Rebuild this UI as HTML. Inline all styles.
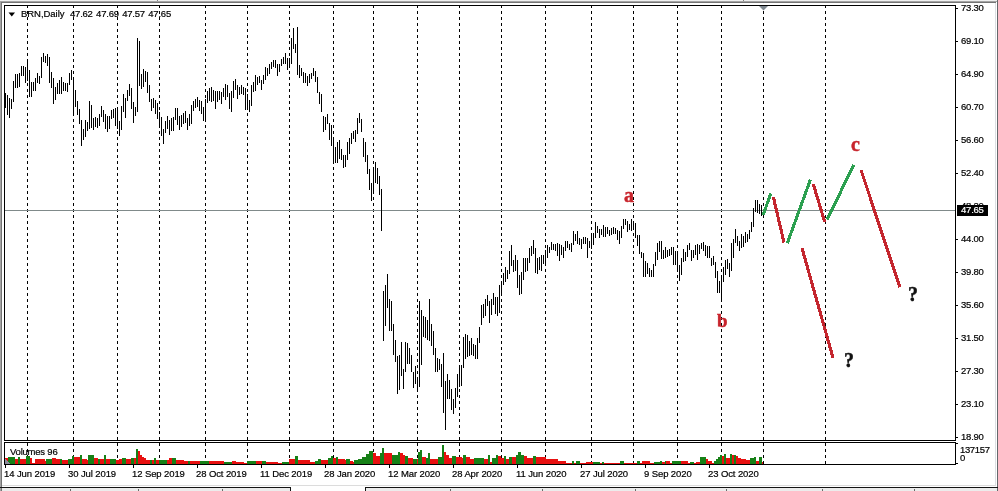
<!DOCTYPE html>
<html><head><meta charset="utf-8"><title>BRN Daily</title>
<style>
html,body{margin:0;padding:0;background:#fff;}
body{width:998px;height:491px;overflow:hidden;position:relative;font-family:"Liberation Sans",sans-serif;}
svg{position:absolute;left:0;top:0;display:block;}
.t{position:absolute;white-space:nowrap;font-family:"Liberation Sans",sans-serif;font-size:9.5px;letter-spacing:-0.22px;line-height:10px;color:#000;will-change:transform;-webkit-text-stroke:0.2px currentColor;}
.s{will-change:transform;-webkit-text-stroke:0.45px currentColor;position:absolute;white-space:nowrap;font-family:"Liberation Serif",serif;font-weight:bold;font-size:20px;line-height:20px;}
</style></head><body>
<svg width="998" height="491" viewBox="0 0 998 491">
<rect x="0" y="0" width="998" height="491" fill="#ffffff"/>
<g shape-rendering="crispEdges">
<rect x="0" y="0" width="998" height="1" fill="#f0f0f0"/>
<rect x="0" y="1" width="997" height="1" fill="#a4a4a4"/>
<rect x="1" y="2" width="995" height="1" fill="#747474"/>
<rect x="0" y="1" width="1" height="490" fill="#a4a4a4"/>
<rect x="1" y="2" width="1" height="489" fill="#747474"/>
<rect x="995" y="3" width="1" height="483" fill="#dcdfe2"/>
<rect x="997" y="0" width="1" height="491" fill="#64686c"/>
<rect x="2" y="485" width="994" height="1" fill="#dcdcdc"/>
<rect x="2" y="488" width="995" height="3" fill="#ececec"/>
<rect x="291" y="487" width="74" height="4" fill="#ffffff"/>
<rect x="0" y="487" width="291" height="1" fill="#141414"/>
<rect x="365" y="487" width="633" height="1" fill="#141414"/>
<rect x="290" y="487" width="1" height="4" fill="#141414"/>
<rect x="365" y="487" width="1" height="4" fill="#141414"/>
<rect x="70" y="489" width="1" height="2" fill="#6a6a6a"/>
<rect x="138" y="489" width="1" height="2" fill="#6a6a6a"/>
<rect x="222" y="489" width="1" height="2" fill="#6a6a6a"/>
<rect x="450" y="489" width="1" height="2" fill="#6a6a6a"/>
<rect x="542" y="489" width="1" height="2" fill="#6a6a6a"/>
<rect x="635" y="489" width="1" height="2" fill="#6a6a6a"/>
<rect x="726" y="489" width="1" height="2" fill="#6a6a6a"/>
<rect x="822" y="489" width="1" height="2" fill="#6a6a6a"/>
<rect x="914" y="489" width="1" height="2" fill="#6a6a6a"/>
<rect x="157" y="0" width="1" height="1" fill="#808080"/><rect x="743" y="0" width="1" height="1" fill="#808080"/>
</g>
<g shape-rendering="crispEdges" fill="#000">
<rect x="27" y="6" width="1" height="2"/><rect x="27" y="11" width="1" height="3"/><rect x="27" y="17" width="1" height="3"/><rect x="27" y="23" width="1" height="3"/><rect x="27" y="29" width="1" height="3"/><rect x="27" y="35" width="1" height="3"/><rect x="27" y="41" width="1" height="3"/><rect x="27" y="47" width="1" height="3"/><rect x="27" y="53" width="1" height="3"/><rect x="27" y="59" width="1" height="3"/><rect x="27" y="65" width="1" height="3"/><rect x="27" y="71" width="1" height="3"/><rect x="27" y="77" width="1" height="3"/><rect x="27" y="83" width="1" height="3"/><rect x="27" y="89" width="1" height="3"/><rect x="27" y="95" width="1" height="3"/><rect x="27" y="101" width="1" height="3"/><rect x="27" y="107" width="1" height="3"/><rect x="27" y="113" width="1" height="3"/><rect x="27" y="119" width="1" height="3"/><rect x="27" y="125" width="1" height="3"/><rect x="27" y="131" width="1" height="3"/><rect x="27" y="137" width="1" height="3"/><rect x="27" y="143" width="1" height="3"/><rect x="27" y="149" width="1" height="3"/><rect x="27" y="155" width="1" height="3"/><rect x="27" y="161" width="1" height="3"/><rect x="27" y="167" width="1" height="3"/><rect x="27" y="173" width="1" height="3"/><rect x="27" y="179" width="1" height="3"/><rect x="27" y="185" width="1" height="3"/><rect x="27" y="191" width="1" height="3"/><rect x="27" y="197" width="1" height="3"/><rect x="27" y="203" width="1" height="3"/><rect x="27" y="209" width="1" height="3"/><rect x="27" y="215" width="1" height="3"/><rect x="27" y="221" width="1" height="3"/><rect x="27" y="227" width="1" height="3"/><rect x="27" y="233" width="1" height="3"/><rect x="27" y="239" width="1" height="3"/><rect x="27" y="245" width="1" height="3"/><rect x="27" y="251" width="1" height="3"/><rect x="27" y="257" width="1" height="3"/><rect x="27" y="263" width="1" height="3"/><rect x="27" y="269" width="1" height="3"/><rect x="27" y="275" width="1" height="3"/><rect x="27" y="281" width="1" height="3"/><rect x="27" y="287" width="1" height="3"/><rect x="27" y="293" width="1" height="3"/><rect x="27" y="299" width="1" height="3"/><rect x="27" y="305" width="1" height="3"/><rect x="27" y="311" width="1" height="3"/><rect x="27" y="317" width="1" height="3"/><rect x="27" y="323" width="1" height="3"/><rect x="27" y="329" width="1" height="3"/><rect x="27" y="335" width="1" height="3"/><rect x="27" y="341" width="1" height="3"/><rect x="27" y="347" width="1" height="3"/><rect x="27" y="353" width="1" height="3"/><rect x="27" y="359" width="1" height="3"/><rect x="27" y="365" width="1" height="3"/><rect x="27" y="371" width="1" height="3"/><rect x="27" y="377" width="1" height="3"/><rect x="27" y="383" width="1" height="3"/><rect x="27" y="389" width="1" height="3"/><rect x="27" y="395" width="1" height="3"/><rect x="27" y="401" width="1" height="3"/><rect x="27" y="407" width="1" height="3"/><rect x="27" y="413" width="1" height="3"/><rect x="27" y="419" width="1" height="3"/><rect x="27" y="425" width="1" height="3"/><rect x="27" y="431" width="1" height="3"/><rect x="27" y="437" width="1" height="3"/><rect x="27" y="443" width="1" height="3"/><rect x="27" y="449" width="1" height="3"/><rect x="27" y="455" width="1" height="3"/><rect x="27" y="461" width="1" height="3"/>
<rect x="73" y="6" width="1" height="2"/><rect x="73" y="11" width="1" height="3"/><rect x="73" y="17" width="1" height="3"/><rect x="73" y="23" width="1" height="3"/><rect x="73" y="29" width="1" height="3"/><rect x="73" y="35" width="1" height="3"/><rect x="73" y="41" width="1" height="3"/><rect x="73" y="47" width="1" height="3"/><rect x="73" y="53" width="1" height="3"/><rect x="73" y="59" width="1" height="3"/><rect x="73" y="65" width="1" height="3"/><rect x="73" y="71" width="1" height="3"/><rect x="73" y="77" width="1" height="3"/><rect x="73" y="83" width="1" height="3"/><rect x="73" y="89" width="1" height="3"/><rect x="73" y="95" width="1" height="3"/><rect x="73" y="101" width="1" height="3"/><rect x="73" y="107" width="1" height="3"/><rect x="73" y="113" width="1" height="3"/><rect x="73" y="119" width="1" height="3"/><rect x="73" y="125" width="1" height="3"/><rect x="73" y="131" width="1" height="3"/><rect x="73" y="137" width="1" height="3"/><rect x="73" y="143" width="1" height="3"/><rect x="73" y="149" width="1" height="3"/><rect x="73" y="155" width="1" height="3"/><rect x="73" y="161" width="1" height="3"/><rect x="73" y="167" width="1" height="3"/><rect x="73" y="173" width="1" height="3"/><rect x="73" y="179" width="1" height="3"/><rect x="73" y="185" width="1" height="3"/><rect x="73" y="191" width="1" height="3"/><rect x="73" y="197" width="1" height="3"/><rect x="73" y="203" width="1" height="3"/><rect x="73" y="209" width="1" height="3"/><rect x="73" y="215" width="1" height="3"/><rect x="73" y="221" width="1" height="3"/><rect x="73" y="227" width="1" height="3"/><rect x="73" y="233" width="1" height="3"/><rect x="73" y="239" width="1" height="3"/><rect x="73" y="245" width="1" height="3"/><rect x="73" y="251" width="1" height="3"/><rect x="73" y="257" width="1" height="3"/><rect x="73" y="263" width="1" height="3"/><rect x="73" y="269" width="1" height="3"/><rect x="73" y="275" width="1" height="3"/><rect x="73" y="281" width="1" height="3"/><rect x="73" y="287" width="1" height="3"/><rect x="73" y="293" width="1" height="3"/><rect x="73" y="299" width="1" height="3"/><rect x="73" y="305" width="1" height="3"/><rect x="73" y="311" width="1" height="3"/><rect x="73" y="317" width="1" height="3"/><rect x="73" y="323" width="1" height="3"/><rect x="73" y="329" width="1" height="3"/><rect x="73" y="335" width="1" height="3"/><rect x="73" y="341" width="1" height="3"/><rect x="73" y="347" width="1" height="3"/><rect x="73" y="353" width="1" height="3"/><rect x="73" y="359" width="1" height="3"/><rect x="73" y="365" width="1" height="3"/><rect x="73" y="371" width="1" height="3"/><rect x="73" y="377" width="1" height="3"/><rect x="73" y="383" width="1" height="3"/><rect x="73" y="389" width="1" height="3"/><rect x="73" y="395" width="1" height="3"/><rect x="73" y="401" width="1" height="3"/><rect x="73" y="407" width="1" height="3"/><rect x="73" y="413" width="1" height="3"/><rect x="73" y="419" width="1" height="3"/><rect x="73" y="425" width="1" height="3"/><rect x="73" y="431" width="1" height="3"/><rect x="73" y="437" width="1" height="3"/><rect x="73" y="443" width="1" height="3"/><rect x="73" y="449" width="1" height="3"/><rect x="73" y="455" width="1" height="3"/><rect x="73" y="461" width="1" height="3"/>
<rect x="117" y="6" width="1" height="2"/><rect x="117" y="11" width="1" height="3"/><rect x="117" y="17" width="1" height="3"/><rect x="117" y="23" width="1" height="3"/><rect x="117" y="29" width="1" height="3"/><rect x="117" y="35" width="1" height="3"/><rect x="117" y="41" width="1" height="3"/><rect x="117" y="47" width="1" height="3"/><rect x="117" y="53" width="1" height="3"/><rect x="117" y="59" width="1" height="3"/><rect x="117" y="65" width="1" height="3"/><rect x="117" y="71" width="1" height="3"/><rect x="117" y="77" width="1" height="3"/><rect x="117" y="83" width="1" height="3"/><rect x="117" y="89" width="1" height="3"/><rect x="117" y="95" width="1" height="3"/><rect x="117" y="101" width="1" height="3"/><rect x="117" y="107" width="1" height="3"/><rect x="117" y="113" width="1" height="3"/><rect x="117" y="119" width="1" height="3"/><rect x="117" y="125" width="1" height="3"/><rect x="117" y="131" width="1" height="3"/><rect x="117" y="137" width="1" height="3"/><rect x="117" y="143" width="1" height="3"/><rect x="117" y="149" width="1" height="3"/><rect x="117" y="155" width="1" height="3"/><rect x="117" y="161" width="1" height="3"/><rect x="117" y="167" width="1" height="3"/><rect x="117" y="173" width="1" height="3"/><rect x="117" y="179" width="1" height="3"/><rect x="117" y="185" width="1" height="3"/><rect x="117" y="191" width="1" height="3"/><rect x="117" y="197" width="1" height="3"/><rect x="117" y="203" width="1" height="3"/><rect x="117" y="209" width="1" height="3"/><rect x="117" y="215" width="1" height="3"/><rect x="117" y="221" width="1" height="3"/><rect x="117" y="227" width="1" height="3"/><rect x="117" y="233" width="1" height="3"/><rect x="117" y="239" width="1" height="3"/><rect x="117" y="245" width="1" height="3"/><rect x="117" y="251" width="1" height="3"/><rect x="117" y="257" width="1" height="3"/><rect x="117" y="263" width="1" height="3"/><rect x="117" y="269" width="1" height="3"/><rect x="117" y="275" width="1" height="3"/><rect x="117" y="281" width="1" height="3"/><rect x="117" y="287" width="1" height="3"/><rect x="117" y="293" width="1" height="3"/><rect x="117" y="299" width="1" height="3"/><rect x="117" y="305" width="1" height="3"/><rect x="117" y="311" width="1" height="3"/><rect x="117" y="317" width="1" height="3"/><rect x="117" y="323" width="1" height="3"/><rect x="117" y="329" width="1" height="3"/><rect x="117" y="335" width="1" height="3"/><rect x="117" y="341" width="1" height="3"/><rect x="117" y="347" width="1" height="3"/><rect x="117" y="353" width="1" height="3"/><rect x="117" y="359" width="1" height="3"/><rect x="117" y="365" width="1" height="3"/><rect x="117" y="371" width="1" height="3"/><rect x="117" y="377" width="1" height="3"/><rect x="117" y="383" width="1" height="3"/><rect x="117" y="389" width="1" height="3"/><rect x="117" y="395" width="1" height="3"/><rect x="117" y="401" width="1" height="3"/><rect x="117" y="407" width="1" height="3"/><rect x="117" y="413" width="1" height="3"/><rect x="117" y="419" width="1" height="3"/><rect x="117" y="425" width="1" height="3"/><rect x="117" y="431" width="1" height="3"/><rect x="117" y="437" width="1" height="3"/><rect x="117" y="443" width="1" height="3"/><rect x="117" y="449" width="1" height="3"/><rect x="117" y="455" width="1" height="3"/><rect x="117" y="461" width="1" height="3"/>
<rect x="159" y="6" width="1" height="2"/><rect x="159" y="11" width="1" height="3"/><rect x="159" y="17" width="1" height="3"/><rect x="159" y="23" width="1" height="3"/><rect x="159" y="29" width="1" height="3"/><rect x="159" y="35" width="1" height="3"/><rect x="159" y="41" width="1" height="3"/><rect x="159" y="47" width="1" height="3"/><rect x="159" y="53" width="1" height="3"/><rect x="159" y="59" width="1" height="3"/><rect x="159" y="65" width="1" height="3"/><rect x="159" y="71" width="1" height="3"/><rect x="159" y="77" width="1" height="3"/><rect x="159" y="83" width="1" height="3"/><rect x="159" y="89" width="1" height="3"/><rect x="159" y="95" width="1" height="3"/><rect x="159" y="101" width="1" height="3"/><rect x="159" y="107" width="1" height="3"/><rect x="159" y="113" width="1" height="3"/><rect x="159" y="119" width="1" height="3"/><rect x="159" y="125" width="1" height="3"/><rect x="159" y="131" width="1" height="3"/><rect x="159" y="137" width="1" height="3"/><rect x="159" y="143" width="1" height="3"/><rect x="159" y="149" width="1" height="3"/><rect x="159" y="155" width="1" height="3"/><rect x="159" y="161" width="1" height="3"/><rect x="159" y="167" width="1" height="3"/><rect x="159" y="173" width="1" height="3"/><rect x="159" y="179" width="1" height="3"/><rect x="159" y="185" width="1" height="3"/><rect x="159" y="191" width="1" height="3"/><rect x="159" y="197" width="1" height="3"/><rect x="159" y="203" width="1" height="3"/><rect x="159" y="209" width="1" height="3"/><rect x="159" y="215" width="1" height="3"/><rect x="159" y="221" width="1" height="3"/><rect x="159" y="227" width="1" height="3"/><rect x="159" y="233" width="1" height="3"/><rect x="159" y="239" width="1" height="3"/><rect x="159" y="245" width="1" height="3"/><rect x="159" y="251" width="1" height="3"/><rect x="159" y="257" width="1" height="3"/><rect x="159" y="263" width="1" height="3"/><rect x="159" y="269" width="1" height="3"/><rect x="159" y="275" width="1" height="3"/><rect x="159" y="281" width="1" height="3"/><rect x="159" y="287" width="1" height="3"/><rect x="159" y="293" width="1" height="3"/><rect x="159" y="299" width="1" height="3"/><rect x="159" y="305" width="1" height="3"/><rect x="159" y="311" width="1" height="3"/><rect x="159" y="317" width="1" height="3"/><rect x="159" y="323" width="1" height="3"/><rect x="159" y="329" width="1" height="3"/><rect x="159" y="335" width="1" height="3"/><rect x="159" y="341" width="1" height="3"/><rect x="159" y="347" width="1" height="3"/><rect x="159" y="353" width="1" height="3"/><rect x="159" y="359" width="1" height="3"/><rect x="159" y="365" width="1" height="3"/><rect x="159" y="371" width="1" height="3"/><rect x="159" y="377" width="1" height="3"/><rect x="159" y="383" width="1" height="3"/><rect x="159" y="389" width="1" height="3"/><rect x="159" y="395" width="1" height="3"/><rect x="159" y="401" width="1" height="3"/><rect x="159" y="407" width="1" height="3"/><rect x="159" y="413" width="1" height="3"/><rect x="159" y="419" width="1" height="3"/><rect x="159" y="425" width="1" height="3"/><rect x="159" y="431" width="1" height="3"/><rect x="159" y="437" width="1" height="3"/><rect x="159" y="443" width="1" height="3"/><rect x="159" y="449" width="1" height="3"/><rect x="159" y="455" width="1" height="3"/><rect x="159" y="461" width="1" height="3"/>
<rect x="205" y="6" width="1" height="2"/><rect x="205" y="11" width="1" height="3"/><rect x="205" y="17" width="1" height="3"/><rect x="205" y="23" width="1" height="3"/><rect x="205" y="29" width="1" height="3"/><rect x="205" y="35" width="1" height="3"/><rect x="205" y="41" width="1" height="3"/><rect x="205" y="47" width="1" height="3"/><rect x="205" y="53" width="1" height="3"/><rect x="205" y="59" width="1" height="3"/><rect x="205" y="65" width="1" height="3"/><rect x="205" y="71" width="1" height="3"/><rect x="205" y="77" width="1" height="3"/><rect x="205" y="83" width="1" height="3"/><rect x="205" y="89" width="1" height="3"/><rect x="205" y="95" width="1" height="3"/><rect x="205" y="101" width="1" height="3"/><rect x="205" y="107" width="1" height="3"/><rect x="205" y="113" width="1" height="3"/><rect x="205" y="119" width="1" height="3"/><rect x="205" y="125" width="1" height="3"/><rect x="205" y="131" width="1" height="3"/><rect x="205" y="137" width="1" height="3"/><rect x="205" y="143" width="1" height="3"/><rect x="205" y="149" width="1" height="3"/><rect x="205" y="155" width="1" height="3"/><rect x="205" y="161" width="1" height="3"/><rect x="205" y="167" width="1" height="3"/><rect x="205" y="173" width="1" height="3"/><rect x="205" y="179" width="1" height="3"/><rect x="205" y="185" width="1" height="3"/><rect x="205" y="191" width="1" height="3"/><rect x="205" y="197" width="1" height="3"/><rect x="205" y="203" width="1" height="3"/><rect x="205" y="209" width="1" height="3"/><rect x="205" y="215" width="1" height="3"/><rect x="205" y="221" width="1" height="3"/><rect x="205" y="227" width="1" height="3"/><rect x="205" y="233" width="1" height="3"/><rect x="205" y="239" width="1" height="3"/><rect x="205" y="245" width="1" height="3"/><rect x="205" y="251" width="1" height="3"/><rect x="205" y="257" width="1" height="3"/><rect x="205" y="263" width="1" height="3"/><rect x="205" y="269" width="1" height="3"/><rect x="205" y="275" width="1" height="3"/><rect x="205" y="281" width="1" height="3"/><rect x="205" y="287" width="1" height="3"/><rect x="205" y="293" width="1" height="3"/><rect x="205" y="299" width="1" height="3"/><rect x="205" y="305" width="1" height="3"/><rect x="205" y="311" width="1" height="3"/><rect x="205" y="317" width="1" height="3"/><rect x="205" y="323" width="1" height="3"/><rect x="205" y="329" width="1" height="3"/><rect x="205" y="335" width="1" height="3"/><rect x="205" y="341" width="1" height="3"/><rect x="205" y="347" width="1" height="3"/><rect x="205" y="353" width="1" height="3"/><rect x="205" y="359" width="1" height="3"/><rect x="205" y="365" width="1" height="3"/><rect x="205" y="371" width="1" height="3"/><rect x="205" y="377" width="1" height="3"/><rect x="205" y="383" width="1" height="3"/><rect x="205" y="389" width="1" height="3"/><rect x="205" y="395" width="1" height="3"/><rect x="205" y="401" width="1" height="3"/><rect x="205" y="407" width="1" height="3"/><rect x="205" y="413" width="1" height="3"/><rect x="205" y="419" width="1" height="3"/><rect x="205" y="425" width="1" height="3"/><rect x="205" y="431" width="1" height="3"/><rect x="205" y="437" width="1" height="3"/><rect x="205" y="443" width="1" height="3"/><rect x="205" y="449" width="1" height="3"/><rect x="205" y="455" width="1" height="3"/><rect x="205" y="461" width="1" height="3"/>
<rect x="247" y="6" width="1" height="2"/><rect x="247" y="11" width="1" height="3"/><rect x="247" y="17" width="1" height="3"/><rect x="247" y="23" width="1" height="3"/><rect x="247" y="29" width="1" height="3"/><rect x="247" y="35" width="1" height="3"/><rect x="247" y="41" width="1" height="3"/><rect x="247" y="47" width="1" height="3"/><rect x="247" y="53" width="1" height="3"/><rect x="247" y="59" width="1" height="3"/><rect x="247" y="65" width="1" height="3"/><rect x="247" y="71" width="1" height="3"/><rect x="247" y="77" width="1" height="3"/><rect x="247" y="83" width="1" height="3"/><rect x="247" y="89" width="1" height="3"/><rect x="247" y="95" width="1" height="3"/><rect x="247" y="101" width="1" height="3"/><rect x="247" y="107" width="1" height="3"/><rect x="247" y="113" width="1" height="3"/><rect x="247" y="119" width="1" height="3"/><rect x="247" y="125" width="1" height="3"/><rect x="247" y="131" width="1" height="3"/><rect x="247" y="137" width="1" height="3"/><rect x="247" y="143" width="1" height="3"/><rect x="247" y="149" width="1" height="3"/><rect x="247" y="155" width="1" height="3"/><rect x="247" y="161" width="1" height="3"/><rect x="247" y="167" width="1" height="3"/><rect x="247" y="173" width="1" height="3"/><rect x="247" y="179" width="1" height="3"/><rect x="247" y="185" width="1" height="3"/><rect x="247" y="191" width="1" height="3"/><rect x="247" y="197" width="1" height="3"/><rect x="247" y="203" width="1" height="3"/><rect x="247" y="209" width="1" height="3"/><rect x="247" y="215" width="1" height="3"/><rect x="247" y="221" width="1" height="3"/><rect x="247" y="227" width="1" height="3"/><rect x="247" y="233" width="1" height="3"/><rect x="247" y="239" width="1" height="3"/><rect x="247" y="245" width="1" height="3"/><rect x="247" y="251" width="1" height="3"/><rect x="247" y="257" width="1" height="3"/><rect x="247" y="263" width="1" height="3"/><rect x="247" y="269" width="1" height="3"/><rect x="247" y="275" width="1" height="3"/><rect x="247" y="281" width="1" height="3"/><rect x="247" y="287" width="1" height="3"/><rect x="247" y="293" width="1" height="3"/><rect x="247" y="299" width="1" height="3"/><rect x="247" y="305" width="1" height="3"/><rect x="247" y="311" width="1" height="3"/><rect x="247" y="317" width="1" height="3"/><rect x="247" y="323" width="1" height="3"/><rect x="247" y="329" width="1" height="3"/><rect x="247" y="335" width="1" height="3"/><rect x="247" y="341" width="1" height="3"/><rect x="247" y="347" width="1" height="3"/><rect x="247" y="353" width="1" height="3"/><rect x="247" y="359" width="1" height="3"/><rect x="247" y="365" width="1" height="3"/><rect x="247" y="371" width="1" height="3"/><rect x="247" y="377" width="1" height="3"/><rect x="247" y="383" width="1" height="3"/><rect x="247" y="389" width="1" height="3"/><rect x="247" y="395" width="1" height="3"/><rect x="247" y="401" width="1" height="3"/><rect x="247" y="407" width="1" height="3"/><rect x="247" y="413" width="1" height="3"/><rect x="247" y="419" width="1" height="3"/><rect x="247" y="425" width="1" height="3"/><rect x="247" y="431" width="1" height="3"/><rect x="247" y="437" width="1" height="3"/><rect x="247" y="443" width="1" height="3"/><rect x="247" y="449" width="1" height="3"/><rect x="247" y="455" width="1" height="3"/><rect x="247" y="461" width="1" height="3"/>
<rect x="289" y="6" width="1" height="2"/><rect x="289" y="11" width="1" height="3"/><rect x="289" y="17" width="1" height="3"/><rect x="289" y="23" width="1" height="3"/><rect x="289" y="29" width="1" height="3"/><rect x="289" y="35" width="1" height="3"/><rect x="289" y="41" width="1" height="3"/><rect x="289" y="47" width="1" height="3"/><rect x="289" y="53" width="1" height="3"/><rect x="289" y="59" width="1" height="3"/><rect x="289" y="65" width="1" height="3"/><rect x="289" y="71" width="1" height="3"/><rect x="289" y="77" width="1" height="3"/><rect x="289" y="83" width="1" height="3"/><rect x="289" y="89" width="1" height="3"/><rect x="289" y="95" width="1" height="3"/><rect x="289" y="101" width="1" height="3"/><rect x="289" y="107" width="1" height="3"/><rect x="289" y="113" width="1" height="3"/><rect x="289" y="119" width="1" height="3"/><rect x="289" y="125" width="1" height="3"/><rect x="289" y="131" width="1" height="3"/><rect x="289" y="137" width="1" height="3"/><rect x="289" y="143" width="1" height="3"/><rect x="289" y="149" width="1" height="3"/><rect x="289" y="155" width="1" height="3"/><rect x="289" y="161" width="1" height="3"/><rect x="289" y="167" width="1" height="3"/><rect x="289" y="173" width="1" height="3"/><rect x="289" y="179" width="1" height="3"/><rect x="289" y="185" width="1" height="3"/><rect x="289" y="191" width="1" height="3"/><rect x="289" y="197" width="1" height="3"/><rect x="289" y="203" width="1" height="3"/><rect x="289" y="209" width="1" height="3"/><rect x="289" y="215" width="1" height="3"/><rect x="289" y="221" width="1" height="3"/><rect x="289" y="227" width="1" height="3"/><rect x="289" y="233" width="1" height="3"/><rect x="289" y="239" width="1" height="3"/><rect x="289" y="245" width="1" height="3"/><rect x="289" y="251" width="1" height="3"/><rect x="289" y="257" width="1" height="3"/><rect x="289" y="263" width="1" height="3"/><rect x="289" y="269" width="1" height="3"/><rect x="289" y="275" width="1" height="3"/><rect x="289" y="281" width="1" height="3"/><rect x="289" y="287" width="1" height="3"/><rect x="289" y="293" width="1" height="3"/><rect x="289" y="299" width="1" height="3"/><rect x="289" y="305" width="1" height="3"/><rect x="289" y="311" width="1" height="3"/><rect x="289" y="317" width="1" height="3"/><rect x="289" y="323" width="1" height="3"/><rect x="289" y="329" width="1" height="3"/><rect x="289" y="335" width="1" height="3"/><rect x="289" y="341" width="1" height="3"/><rect x="289" y="347" width="1" height="3"/><rect x="289" y="353" width="1" height="3"/><rect x="289" y="359" width="1" height="3"/><rect x="289" y="365" width="1" height="3"/><rect x="289" y="371" width="1" height="3"/><rect x="289" y="377" width="1" height="3"/><rect x="289" y="383" width="1" height="3"/><rect x="289" y="389" width="1" height="3"/><rect x="289" y="395" width="1" height="3"/><rect x="289" y="401" width="1" height="3"/><rect x="289" y="407" width="1" height="3"/><rect x="289" y="413" width="1" height="3"/><rect x="289" y="419" width="1" height="3"/><rect x="289" y="425" width="1" height="3"/><rect x="289" y="431" width="1" height="3"/><rect x="289" y="437" width="1" height="3"/><rect x="289" y="443" width="1" height="3"/><rect x="289" y="449" width="1" height="3"/><rect x="289" y="455" width="1" height="3"/><rect x="289" y="461" width="1" height="3"/>
<rect x="333" y="6" width="1" height="2"/><rect x="333" y="11" width="1" height="3"/><rect x="333" y="17" width="1" height="3"/><rect x="333" y="23" width="1" height="3"/><rect x="333" y="29" width="1" height="3"/><rect x="333" y="35" width="1" height="3"/><rect x="333" y="41" width="1" height="3"/><rect x="333" y="47" width="1" height="3"/><rect x="333" y="53" width="1" height="3"/><rect x="333" y="59" width="1" height="3"/><rect x="333" y="65" width="1" height="3"/><rect x="333" y="71" width="1" height="3"/><rect x="333" y="77" width="1" height="3"/><rect x="333" y="83" width="1" height="3"/><rect x="333" y="89" width="1" height="3"/><rect x="333" y="95" width="1" height="3"/><rect x="333" y="101" width="1" height="3"/><rect x="333" y="107" width="1" height="3"/><rect x="333" y="113" width="1" height="3"/><rect x="333" y="119" width="1" height="3"/><rect x="333" y="125" width="1" height="3"/><rect x="333" y="131" width="1" height="3"/><rect x="333" y="137" width="1" height="3"/><rect x="333" y="143" width="1" height="3"/><rect x="333" y="149" width="1" height="3"/><rect x="333" y="155" width="1" height="3"/><rect x="333" y="161" width="1" height="3"/><rect x="333" y="167" width="1" height="3"/><rect x="333" y="173" width="1" height="3"/><rect x="333" y="179" width="1" height="3"/><rect x="333" y="185" width="1" height="3"/><rect x="333" y="191" width="1" height="3"/><rect x="333" y="197" width="1" height="3"/><rect x="333" y="203" width="1" height="3"/><rect x="333" y="209" width="1" height="3"/><rect x="333" y="215" width="1" height="3"/><rect x="333" y="221" width="1" height="3"/><rect x="333" y="227" width="1" height="3"/><rect x="333" y="233" width="1" height="3"/><rect x="333" y="239" width="1" height="3"/><rect x="333" y="245" width="1" height="3"/><rect x="333" y="251" width="1" height="3"/><rect x="333" y="257" width="1" height="3"/><rect x="333" y="263" width="1" height="3"/><rect x="333" y="269" width="1" height="3"/><rect x="333" y="275" width="1" height="3"/><rect x="333" y="281" width="1" height="3"/><rect x="333" y="287" width="1" height="3"/><rect x="333" y="293" width="1" height="3"/><rect x="333" y="299" width="1" height="3"/><rect x="333" y="305" width="1" height="3"/><rect x="333" y="311" width="1" height="3"/><rect x="333" y="317" width="1" height="3"/><rect x="333" y="323" width="1" height="3"/><rect x="333" y="329" width="1" height="3"/><rect x="333" y="335" width="1" height="3"/><rect x="333" y="341" width="1" height="3"/><rect x="333" y="347" width="1" height="3"/><rect x="333" y="353" width="1" height="3"/><rect x="333" y="359" width="1" height="3"/><rect x="333" y="365" width="1" height="3"/><rect x="333" y="371" width="1" height="3"/><rect x="333" y="377" width="1" height="3"/><rect x="333" y="383" width="1" height="3"/><rect x="333" y="389" width="1" height="3"/><rect x="333" y="395" width="1" height="3"/><rect x="333" y="401" width="1" height="3"/><rect x="333" y="407" width="1" height="3"/><rect x="333" y="413" width="1" height="3"/><rect x="333" y="419" width="1" height="3"/><rect x="333" y="425" width="1" height="3"/><rect x="333" y="431" width="1" height="3"/><rect x="333" y="437" width="1" height="3"/><rect x="333" y="443" width="1" height="3"/><rect x="333" y="449" width="1" height="3"/><rect x="333" y="455" width="1" height="3"/><rect x="333" y="461" width="1" height="3"/>
<rect x="373" y="6" width="1" height="2"/><rect x="373" y="11" width="1" height="3"/><rect x="373" y="17" width="1" height="3"/><rect x="373" y="23" width="1" height="3"/><rect x="373" y="29" width="1" height="3"/><rect x="373" y="35" width="1" height="3"/><rect x="373" y="41" width="1" height="3"/><rect x="373" y="47" width="1" height="3"/><rect x="373" y="53" width="1" height="3"/><rect x="373" y="59" width="1" height="3"/><rect x="373" y="65" width="1" height="3"/><rect x="373" y="71" width="1" height="3"/><rect x="373" y="77" width="1" height="3"/><rect x="373" y="83" width="1" height="3"/><rect x="373" y="89" width="1" height="3"/><rect x="373" y="95" width="1" height="3"/><rect x="373" y="101" width="1" height="3"/><rect x="373" y="107" width="1" height="3"/><rect x="373" y="113" width="1" height="3"/><rect x="373" y="119" width="1" height="3"/><rect x="373" y="125" width="1" height="3"/><rect x="373" y="131" width="1" height="3"/><rect x="373" y="137" width="1" height="3"/><rect x="373" y="143" width="1" height="3"/><rect x="373" y="149" width="1" height="3"/><rect x="373" y="155" width="1" height="3"/><rect x="373" y="161" width="1" height="3"/><rect x="373" y="167" width="1" height="3"/><rect x="373" y="173" width="1" height="3"/><rect x="373" y="179" width="1" height="3"/><rect x="373" y="185" width="1" height="3"/><rect x="373" y="191" width="1" height="3"/><rect x="373" y="197" width="1" height="3"/><rect x="373" y="203" width="1" height="3"/><rect x="373" y="209" width="1" height="3"/><rect x="373" y="215" width="1" height="3"/><rect x="373" y="221" width="1" height="3"/><rect x="373" y="227" width="1" height="3"/><rect x="373" y="233" width="1" height="3"/><rect x="373" y="239" width="1" height="3"/><rect x="373" y="245" width="1" height="3"/><rect x="373" y="251" width="1" height="3"/><rect x="373" y="257" width="1" height="3"/><rect x="373" y="263" width="1" height="3"/><rect x="373" y="269" width="1" height="3"/><rect x="373" y="275" width="1" height="3"/><rect x="373" y="281" width="1" height="3"/><rect x="373" y="287" width="1" height="3"/><rect x="373" y="293" width="1" height="3"/><rect x="373" y="299" width="1" height="3"/><rect x="373" y="305" width="1" height="3"/><rect x="373" y="311" width="1" height="3"/><rect x="373" y="317" width="1" height="3"/><rect x="373" y="323" width="1" height="3"/><rect x="373" y="329" width="1" height="3"/><rect x="373" y="335" width="1" height="3"/><rect x="373" y="341" width="1" height="3"/><rect x="373" y="347" width="1" height="3"/><rect x="373" y="353" width="1" height="3"/><rect x="373" y="359" width="1" height="3"/><rect x="373" y="365" width="1" height="3"/><rect x="373" y="371" width="1" height="3"/><rect x="373" y="377" width="1" height="3"/><rect x="373" y="383" width="1" height="3"/><rect x="373" y="389" width="1" height="3"/><rect x="373" y="395" width="1" height="3"/><rect x="373" y="401" width="1" height="3"/><rect x="373" y="407" width="1" height="3"/><rect x="373" y="413" width="1" height="3"/><rect x="373" y="419" width="1" height="3"/><rect x="373" y="425" width="1" height="3"/><rect x="373" y="431" width="1" height="3"/><rect x="373" y="437" width="1" height="3"/><rect x="373" y="443" width="1" height="3"/><rect x="373" y="449" width="1" height="3"/><rect x="373" y="455" width="1" height="3"/><rect x="373" y="461" width="1" height="3"/>
<rect x="417" y="6" width="1" height="2"/><rect x="417" y="11" width="1" height="3"/><rect x="417" y="17" width="1" height="3"/><rect x="417" y="23" width="1" height="3"/><rect x="417" y="29" width="1" height="3"/><rect x="417" y="35" width="1" height="3"/><rect x="417" y="41" width="1" height="3"/><rect x="417" y="47" width="1" height="3"/><rect x="417" y="53" width="1" height="3"/><rect x="417" y="59" width="1" height="3"/><rect x="417" y="65" width="1" height="3"/><rect x="417" y="71" width="1" height="3"/><rect x="417" y="77" width="1" height="3"/><rect x="417" y="83" width="1" height="3"/><rect x="417" y="89" width="1" height="3"/><rect x="417" y="95" width="1" height="3"/><rect x="417" y="101" width="1" height="3"/><rect x="417" y="107" width="1" height="3"/><rect x="417" y="113" width="1" height="3"/><rect x="417" y="119" width="1" height="3"/><rect x="417" y="125" width="1" height="3"/><rect x="417" y="131" width="1" height="3"/><rect x="417" y="137" width="1" height="3"/><rect x="417" y="143" width="1" height="3"/><rect x="417" y="149" width="1" height="3"/><rect x="417" y="155" width="1" height="3"/><rect x="417" y="161" width="1" height="3"/><rect x="417" y="167" width="1" height="3"/><rect x="417" y="173" width="1" height="3"/><rect x="417" y="179" width="1" height="3"/><rect x="417" y="185" width="1" height="3"/><rect x="417" y="191" width="1" height="3"/><rect x="417" y="197" width="1" height="3"/><rect x="417" y="203" width="1" height="3"/><rect x="417" y="209" width="1" height="3"/><rect x="417" y="215" width="1" height="3"/><rect x="417" y="221" width="1" height="3"/><rect x="417" y="227" width="1" height="3"/><rect x="417" y="233" width="1" height="3"/><rect x="417" y="239" width="1" height="3"/><rect x="417" y="245" width="1" height="3"/><rect x="417" y="251" width="1" height="3"/><rect x="417" y="257" width="1" height="3"/><rect x="417" y="263" width="1" height="3"/><rect x="417" y="269" width="1" height="3"/><rect x="417" y="275" width="1" height="3"/><rect x="417" y="281" width="1" height="3"/><rect x="417" y="287" width="1" height="3"/><rect x="417" y="293" width="1" height="3"/><rect x="417" y="299" width="1" height="3"/><rect x="417" y="305" width="1" height="3"/><rect x="417" y="311" width="1" height="3"/><rect x="417" y="317" width="1" height="3"/><rect x="417" y="323" width="1" height="3"/><rect x="417" y="329" width="1" height="3"/><rect x="417" y="335" width="1" height="3"/><rect x="417" y="341" width="1" height="3"/><rect x="417" y="347" width="1" height="3"/><rect x="417" y="353" width="1" height="3"/><rect x="417" y="359" width="1" height="3"/><rect x="417" y="365" width="1" height="3"/><rect x="417" y="371" width="1" height="3"/><rect x="417" y="377" width="1" height="3"/><rect x="417" y="383" width="1" height="3"/><rect x="417" y="389" width="1" height="3"/><rect x="417" y="395" width="1" height="3"/><rect x="417" y="401" width="1" height="3"/><rect x="417" y="407" width="1" height="3"/><rect x="417" y="413" width="1" height="3"/><rect x="417" y="419" width="1" height="3"/><rect x="417" y="425" width="1" height="3"/><rect x="417" y="431" width="1" height="3"/><rect x="417" y="437" width="1" height="3"/><rect x="417" y="443" width="1" height="3"/><rect x="417" y="449" width="1" height="3"/><rect x="417" y="455" width="1" height="3"/><rect x="417" y="461" width="1" height="3"/>
<rect x="459" y="6" width="1" height="2"/><rect x="459" y="11" width="1" height="3"/><rect x="459" y="17" width="1" height="3"/><rect x="459" y="23" width="1" height="3"/><rect x="459" y="29" width="1" height="3"/><rect x="459" y="35" width="1" height="3"/><rect x="459" y="41" width="1" height="3"/><rect x="459" y="47" width="1" height="3"/><rect x="459" y="53" width="1" height="3"/><rect x="459" y="59" width="1" height="3"/><rect x="459" y="65" width="1" height="3"/><rect x="459" y="71" width="1" height="3"/><rect x="459" y="77" width="1" height="3"/><rect x="459" y="83" width="1" height="3"/><rect x="459" y="89" width="1" height="3"/><rect x="459" y="95" width="1" height="3"/><rect x="459" y="101" width="1" height="3"/><rect x="459" y="107" width="1" height="3"/><rect x="459" y="113" width="1" height="3"/><rect x="459" y="119" width="1" height="3"/><rect x="459" y="125" width="1" height="3"/><rect x="459" y="131" width="1" height="3"/><rect x="459" y="137" width="1" height="3"/><rect x="459" y="143" width="1" height="3"/><rect x="459" y="149" width="1" height="3"/><rect x="459" y="155" width="1" height="3"/><rect x="459" y="161" width="1" height="3"/><rect x="459" y="167" width="1" height="3"/><rect x="459" y="173" width="1" height="3"/><rect x="459" y="179" width="1" height="3"/><rect x="459" y="185" width="1" height="3"/><rect x="459" y="191" width="1" height="3"/><rect x="459" y="197" width="1" height="3"/><rect x="459" y="203" width="1" height="3"/><rect x="459" y="209" width="1" height="3"/><rect x="459" y="215" width="1" height="3"/><rect x="459" y="221" width="1" height="3"/><rect x="459" y="227" width="1" height="3"/><rect x="459" y="233" width="1" height="3"/><rect x="459" y="239" width="1" height="3"/><rect x="459" y="245" width="1" height="3"/><rect x="459" y="251" width="1" height="3"/><rect x="459" y="257" width="1" height="3"/><rect x="459" y="263" width="1" height="3"/><rect x="459" y="269" width="1" height="3"/><rect x="459" y="275" width="1" height="3"/><rect x="459" y="281" width="1" height="3"/><rect x="459" y="287" width="1" height="3"/><rect x="459" y="293" width="1" height="3"/><rect x="459" y="299" width="1" height="3"/><rect x="459" y="305" width="1" height="3"/><rect x="459" y="311" width="1" height="3"/><rect x="459" y="317" width="1" height="3"/><rect x="459" y="323" width="1" height="3"/><rect x="459" y="329" width="1" height="3"/><rect x="459" y="335" width="1" height="3"/><rect x="459" y="341" width="1" height="3"/><rect x="459" y="347" width="1" height="3"/><rect x="459" y="353" width="1" height="3"/><rect x="459" y="359" width="1" height="3"/><rect x="459" y="365" width="1" height="3"/><rect x="459" y="371" width="1" height="3"/><rect x="459" y="377" width="1" height="3"/><rect x="459" y="383" width="1" height="3"/><rect x="459" y="389" width="1" height="3"/><rect x="459" y="395" width="1" height="3"/><rect x="459" y="401" width="1" height="3"/><rect x="459" y="407" width="1" height="3"/><rect x="459" y="413" width="1" height="3"/><rect x="459" y="419" width="1" height="3"/><rect x="459" y="425" width="1" height="3"/><rect x="459" y="431" width="1" height="3"/><rect x="459" y="437" width="1" height="3"/><rect x="459" y="443" width="1" height="3"/><rect x="459" y="449" width="1" height="3"/><rect x="459" y="455" width="1" height="3"/><rect x="459" y="461" width="1" height="3"/>
<rect x="501" y="6" width="1" height="2"/><rect x="501" y="11" width="1" height="3"/><rect x="501" y="17" width="1" height="3"/><rect x="501" y="23" width="1" height="3"/><rect x="501" y="29" width="1" height="3"/><rect x="501" y="35" width="1" height="3"/><rect x="501" y="41" width="1" height="3"/><rect x="501" y="47" width="1" height="3"/><rect x="501" y="53" width="1" height="3"/><rect x="501" y="59" width="1" height="3"/><rect x="501" y="65" width="1" height="3"/><rect x="501" y="71" width="1" height="3"/><rect x="501" y="77" width="1" height="3"/><rect x="501" y="83" width="1" height="3"/><rect x="501" y="89" width="1" height="3"/><rect x="501" y="95" width="1" height="3"/><rect x="501" y="101" width="1" height="3"/><rect x="501" y="107" width="1" height="3"/><rect x="501" y="113" width="1" height="3"/><rect x="501" y="119" width="1" height="3"/><rect x="501" y="125" width="1" height="3"/><rect x="501" y="131" width="1" height="3"/><rect x="501" y="137" width="1" height="3"/><rect x="501" y="143" width="1" height="3"/><rect x="501" y="149" width="1" height="3"/><rect x="501" y="155" width="1" height="3"/><rect x="501" y="161" width="1" height="3"/><rect x="501" y="167" width="1" height="3"/><rect x="501" y="173" width="1" height="3"/><rect x="501" y="179" width="1" height="3"/><rect x="501" y="185" width="1" height="3"/><rect x="501" y="191" width="1" height="3"/><rect x="501" y="197" width="1" height="3"/><rect x="501" y="203" width="1" height="3"/><rect x="501" y="209" width="1" height="3"/><rect x="501" y="215" width="1" height="3"/><rect x="501" y="221" width="1" height="3"/><rect x="501" y="227" width="1" height="3"/><rect x="501" y="233" width="1" height="3"/><rect x="501" y="239" width="1" height="3"/><rect x="501" y="245" width="1" height="3"/><rect x="501" y="251" width="1" height="3"/><rect x="501" y="257" width="1" height="3"/><rect x="501" y="263" width="1" height="3"/><rect x="501" y="269" width="1" height="3"/><rect x="501" y="275" width="1" height="3"/><rect x="501" y="281" width="1" height="3"/><rect x="501" y="287" width="1" height="3"/><rect x="501" y="293" width="1" height="3"/><rect x="501" y="299" width="1" height="3"/><rect x="501" y="305" width="1" height="3"/><rect x="501" y="311" width="1" height="3"/><rect x="501" y="317" width="1" height="3"/><rect x="501" y="323" width="1" height="3"/><rect x="501" y="329" width="1" height="3"/><rect x="501" y="335" width="1" height="3"/><rect x="501" y="341" width="1" height="3"/><rect x="501" y="347" width="1" height="3"/><rect x="501" y="353" width="1" height="3"/><rect x="501" y="359" width="1" height="3"/><rect x="501" y="365" width="1" height="3"/><rect x="501" y="371" width="1" height="3"/><rect x="501" y="377" width="1" height="3"/><rect x="501" y="383" width="1" height="3"/><rect x="501" y="389" width="1" height="3"/><rect x="501" y="395" width="1" height="3"/><rect x="501" y="401" width="1" height="3"/><rect x="501" y="407" width="1" height="3"/><rect x="501" y="413" width="1" height="3"/><rect x="501" y="419" width="1" height="3"/><rect x="501" y="425" width="1" height="3"/><rect x="501" y="431" width="1" height="3"/><rect x="501" y="437" width="1" height="3"/><rect x="501" y="443" width="1" height="3"/><rect x="501" y="449" width="1" height="3"/><rect x="501" y="455" width="1" height="3"/><rect x="501" y="461" width="1" height="3"/>
<rect x="545" y="6" width="1" height="2"/><rect x="545" y="11" width="1" height="3"/><rect x="545" y="17" width="1" height="3"/><rect x="545" y="23" width="1" height="3"/><rect x="545" y="29" width="1" height="3"/><rect x="545" y="35" width="1" height="3"/><rect x="545" y="41" width="1" height="3"/><rect x="545" y="47" width="1" height="3"/><rect x="545" y="53" width="1" height="3"/><rect x="545" y="59" width="1" height="3"/><rect x="545" y="65" width="1" height="3"/><rect x="545" y="71" width="1" height="3"/><rect x="545" y="77" width="1" height="3"/><rect x="545" y="83" width="1" height="3"/><rect x="545" y="89" width="1" height="3"/><rect x="545" y="95" width="1" height="3"/><rect x="545" y="101" width="1" height="3"/><rect x="545" y="107" width="1" height="3"/><rect x="545" y="113" width="1" height="3"/><rect x="545" y="119" width="1" height="3"/><rect x="545" y="125" width="1" height="3"/><rect x="545" y="131" width="1" height="3"/><rect x="545" y="137" width="1" height="3"/><rect x="545" y="143" width="1" height="3"/><rect x="545" y="149" width="1" height="3"/><rect x="545" y="155" width="1" height="3"/><rect x="545" y="161" width="1" height="3"/><rect x="545" y="167" width="1" height="3"/><rect x="545" y="173" width="1" height="3"/><rect x="545" y="179" width="1" height="3"/><rect x="545" y="185" width="1" height="3"/><rect x="545" y="191" width="1" height="3"/><rect x="545" y="197" width="1" height="3"/><rect x="545" y="203" width="1" height="3"/><rect x="545" y="209" width="1" height="3"/><rect x="545" y="215" width="1" height="3"/><rect x="545" y="221" width="1" height="3"/><rect x="545" y="227" width="1" height="3"/><rect x="545" y="233" width="1" height="3"/><rect x="545" y="239" width="1" height="3"/><rect x="545" y="245" width="1" height="3"/><rect x="545" y="251" width="1" height="3"/><rect x="545" y="257" width="1" height="3"/><rect x="545" y="263" width="1" height="3"/><rect x="545" y="269" width="1" height="3"/><rect x="545" y="275" width="1" height="3"/><rect x="545" y="281" width="1" height="3"/><rect x="545" y="287" width="1" height="3"/><rect x="545" y="293" width="1" height="3"/><rect x="545" y="299" width="1" height="3"/><rect x="545" y="305" width="1" height="3"/><rect x="545" y="311" width="1" height="3"/><rect x="545" y="317" width="1" height="3"/><rect x="545" y="323" width="1" height="3"/><rect x="545" y="329" width="1" height="3"/><rect x="545" y="335" width="1" height="3"/><rect x="545" y="341" width="1" height="3"/><rect x="545" y="347" width="1" height="3"/><rect x="545" y="353" width="1" height="3"/><rect x="545" y="359" width="1" height="3"/><rect x="545" y="365" width="1" height="3"/><rect x="545" y="371" width="1" height="3"/><rect x="545" y="377" width="1" height="3"/><rect x="545" y="383" width="1" height="3"/><rect x="545" y="389" width="1" height="3"/><rect x="545" y="395" width="1" height="3"/><rect x="545" y="401" width="1" height="3"/><rect x="545" y="407" width="1" height="3"/><rect x="545" y="413" width="1" height="3"/><rect x="545" y="419" width="1" height="3"/><rect x="545" y="425" width="1" height="3"/><rect x="545" y="431" width="1" height="3"/><rect x="545" y="437" width="1" height="3"/><rect x="545" y="443" width="1" height="3"/><rect x="545" y="449" width="1" height="3"/><rect x="545" y="455" width="1" height="3"/><rect x="545" y="461" width="1" height="3"/>
<rect x="591" y="6" width="1" height="2"/><rect x="591" y="11" width="1" height="3"/><rect x="591" y="17" width="1" height="3"/><rect x="591" y="23" width="1" height="3"/><rect x="591" y="29" width="1" height="3"/><rect x="591" y="35" width="1" height="3"/><rect x="591" y="41" width="1" height="3"/><rect x="591" y="47" width="1" height="3"/><rect x="591" y="53" width="1" height="3"/><rect x="591" y="59" width="1" height="3"/><rect x="591" y="65" width="1" height="3"/><rect x="591" y="71" width="1" height="3"/><rect x="591" y="77" width="1" height="3"/><rect x="591" y="83" width="1" height="3"/><rect x="591" y="89" width="1" height="3"/><rect x="591" y="95" width="1" height="3"/><rect x="591" y="101" width="1" height="3"/><rect x="591" y="107" width="1" height="3"/><rect x="591" y="113" width="1" height="3"/><rect x="591" y="119" width="1" height="3"/><rect x="591" y="125" width="1" height="3"/><rect x="591" y="131" width="1" height="3"/><rect x="591" y="137" width="1" height="3"/><rect x="591" y="143" width="1" height="3"/><rect x="591" y="149" width="1" height="3"/><rect x="591" y="155" width="1" height="3"/><rect x="591" y="161" width="1" height="3"/><rect x="591" y="167" width="1" height="3"/><rect x="591" y="173" width="1" height="3"/><rect x="591" y="179" width="1" height="3"/><rect x="591" y="185" width="1" height="3"/><rect x="591" y="191" width="1" height="3"/><rect x="591" y="197" width="1" height="3"/><rect x="591" y="203" width="1" height="3"/><rect x="591" y="209" width="1" height="3"/><rect x="591" y="215" width="1" height="3"/><rect x="591" y="221" width="1" height="3"/><rect x="591" y="227" width="1" height="3"/><rect x="591" y="233" width="1" height="3"/><rect x="591" y="239" width="1" height="3"/><rect x="591" y="245" width="1" height="3"/><rect x="591" y="251" width="1" height="3"/><rect x="591" y="257" width="1" height="3"/><rect x="591" y="263" width="1" height="3"/><rect x="591" y="269" width="1" height="3"/><rect x="591" y="275" width="1" height="3"/><rect x="591" y="281" width="1" height="3"/><rect x="591" y="287" width="1" height="3"/><rect x="591" y="293" width="1" height="3"/><rect x="591" y="299" width="1" height="3"/><rect x="591" y="305" width="1" height="3"/><rect x="591" y="311" width="1" height="3"/><rect x="591" y="317" width="1" height="3"/><rect x="591" y="323" width="1" height="3"/><rect x="591" y="329" width="1" height="3"/><rect x="591" y="335" width="1" height="3"/><rect x="591" y="341" width="1" height="3"/><rect x="591" y="347" width="1" height="3"/><rect x="591" y="353" width="1" height="3"/><rect x="591" y="359" width="1" height="3"/><rect x="591" y="365" width="1" height="3"/><rect x="591" y="371" width="1" height="3"/><rect x="591" y="377" width="1" height="3"/><rect x="591" y="383" width="1" height="3"/><rect x="591" y="389" width="1" height="3"/><rect x="591" y="395" width="1" height="3"/><rect x="591" y="401" width="1" height="3"/><rect x="591" y="407" width="1" height="3"/><rect x="591" y="413" width="1" height="3"/><rect x="591" y="419" width="1" height="3"/><rect x="591" y="425" width="1" height="3"/><rect x="591" y="431" width="1" height="3"/><rect x="591" y="437" width="1" height="3"/><rect x="591" y="443" width="1" height="3"/><rect x="591" y="449" width="1" height="3"/><rect x="591" y="455" width="1" height="3"/><rect x="591" y="461" width="1" height="3"/>
<rect x="633" y="6" width="1" height="2"/><rect x="633" y="11" width="1" height="3"/><rect x="633" y="17" width="1" height="3"/><rect x="633" y="23" width="1" height="3"/><rect x="633" y="29" width="1" height="3"/><rect x="633" y="35" width="1" height="3"/><rect x="633" y="41" width="1" height="3"/><rect x="633" y="47" width="1" height="3"/><rect x="633" y="53" width="1" height="3"/><rect x="633" y="59" width="1" height="3"/><rect x="633" y="65" width="1" height="3"/><rect x="633" y="71" width="1" height="3"/><rect x="633" y="77" width="1" height="3"/><rect x="633" y="83" width="1" height="3"/><rect x="633" y="89" width="1" height="3"/><rect x="633" y="95" width="1" height="3"/><rect x="633" y="101" width="1" height="3"/><rect x="633" y="107" width="1" height="3"/><rect x="633" y="113" width="1" height="3"/><rect x="633" y="119" width="1" height="3"/><rect x="633" y="125" width="1" height="3"/><rect x="633" y="131" width="1" height="3"/><rect x="633" y="137" width="1" height="3"/><rect x="633" y="143" width="1" height="3"/><rect x="633" y="149" width="1" height="3"/><rect x="633" y="155" width="1" height="3"/><rect x="633" y="161" width="1" height="3"/><rect x="633" y="167" width="1" height="3"/><rect x="633" y="173" width="1" height="3"/><rect x="633" y="179" width="1" height="3"/><rect x="633" y="185" width="1" height="3"/><rect x="633" y="191" width="1" height="3"/><rect x="633" y="197" width="1" height="3"/><rect x="633" y="203" width="1" height="3"/><rect x="633" y="209" width="1" height="3"/><rect x="633" y="215" width="1" height="3"/><rect x="633" y="221" width="1" height="3"/><rect x="633" y="227" width="1" height="3"/><rect x="633" y="233" width="1" height="3"/><rect x="633" y="239" width="1" height="3"/><rect x="633" y="245" width="1" height="3"/><rect x="633" y="251" width="1" height="3"/><rect x="633" y="257" width="1" height="3"/><rect x="633" y="263" width="1" height="3"/><rect x="633" y="269" width="1" height="3"/><rect x="633" y="275" width="1" height="3"/><rect x="633" y="281" width="1" height="3"/><rect x="633" y="287" width="1" height="3"/><rect x="633" y="293" width="1" height="3"/><rect x="633" y="299" width="1" height="3"/><rect x="633" y="305" width="1" height="3"/><rect x="633" y="311" width="1" height="3"/><rect x="633" y="317" width="1" height="3"/><rect x="633" y="323" width="1" height="3"/><rect x="633" y="329" width="1" height="3"/><rect x="633" y="335" width="1" height="3"/><rect x="633" y="341" width="1" height="3"/><rect x="633" y="347" width="1" height="3"/><rect x="633" y="353" width="1" height="3"/><rect x="633" y="359" width="1" height="3"/><rect x="633" y="365" width="1" height="3"/><rect x="633" y="371" width="1" height="3"/><rect x="633" y="377" width="1" height="3"/><rect x="633" y="383" width="1" height="3"/><rect x="633" y="389" width="1" height="3"/><rect x="633" y="395" width="1" height="3"/><rect x="633" y="401" width="1" height="3"/><rect x="633" y="407" width="1" height="3"/><rect x="633" y="413" width="1" height="3"/><rect x="633" y="419" width="1" height="3"/><rect x="633" y="425" width="1" height="3"/><rect x="633" y="431" width="1" height="3"/><rect x="633" y="437" width="1" height="3"/><rect x="633" y="443" width="1" height="3"/><rect x="633" y="449" width="1" height="3"/><rect x="633" y="455" width="1" height="3"/><rect x="633" y="461" width="1" height="3"/>
<rect x="677" y="6" width="1" height="2"/><rect x="677" y="11" width="1" height="3"/><rect x="677" y="17" width="1" height="3"/><rect x="677" y="23" width="1" height="3"/><rect x="677" y="29" width="1" height="3"/><rect x="677" y="35" width="1" height="3"/><rect x="677" y="41" width="1" height="3"/><rect x="677" y="47" width="1" height="3"/><rect x="677" y="53" width="1" height="3"/><rect x="677" y="59" width="1" height="3"/><rect x="677" y="65" width="1" height="3"/><rect x="677" y="71" width="1" height="3"/><rect x="677" y="77" width="1" height="3"/><rect x="677" y="83" width="1" height="3"/><rect x="677" y="89" width="1" height="3"/><rect x="677" y="95" width="1" height="3"/><rect x="677" y="101" width="1" height="3"/><rect x="677" y="107" width="1" height="3"/><rect x="677" y="113" width="1" height="3"/><rect x="677" y="119" width="1" height="3"/><rect x="677" y="125" width="1" height="3"/><rect x="677" y="131" width="1" height="3"/><rect x="677" y="137" width="1" height="3"/><rect x="677" y="143" width="1" height="3"/><rect x="677" y="149" width="1" height="3"/><rect x="677" y="155" width="1" height="3"/><rect x="677" y="161" width="1" height="3"/><rect x="677" y="167" width="1" height="3"/><rect x="677" y="173" width="1" height="3"/><rect x="677" y="179" width="1" height="3"/><rect x="677" y="185" width="1" height="3"/><rect x="677" y="191" width="1" height="3"/><rect x="677" y="197" width="1" height="3"/><rect x="677" y="203" width="1" height="3"/><rect x="677" y="209" width="1" height="3"/><rect x="677" y="215" width="1" height="3"/><rect x="677" y="221" width="1" height="3"/><rect x="677" y="227" width="1" height="3"/><rect x="677" y="233" width="1" height="3"/><rect x="677" y="239" width="1" height="3"/><rect x="677" y="245" width="1" height="3"/><rect x="677" y="251" width="1" height="3"/><rect x="677" y="257" width="1" height="3"/><rect x="677" y="263" width="1" height="3"/><rect x="677" y="269" width="1" height="3"/><rect x="677" y="275" width="1" height="3"/><rect x="677" y="281" width="1" height="3"/><rect x="677" y="287" width="1" height="3"/><rect x="677" y="293" width="1" height="3"/><rect x="677" y="299" width="1" height="3"/><rect x="677" y="305" width="1" height="3"/><rect x="677" y="311" width="1" height="3"/><rect x="677" y="317" width="1" height="3"/><rect x="677" y="323" width="1" height="3"/><rect x="677" y="329" width="1" height="3"/><rect x="677" y="335" width="1" height="3"/><rect x="677" y="341" width="1" height="3"/><rect x="677" y="347" width="1" height="3"/><rect x="677" y="353" width="1" height="3"/><rect x="677" y="359" width="1" height="3"/><rect x="677" y="365" width="1" height="3"/><rect x="677" y="371" width="1" height="3"/><rect x="677" y="377" width="1" height="3"/><rect x="677" y="383" width="1" height="3"/><rect x="677" y="389" width="1" height="3"/><rect x="677" y="395" width="1" height="3"/><rect x="677" y="401" width="1" height="3"/><rect x="677" y="407" width="1" height="3"/><rect x="677" y="413" width="1" height="3"/><rect x="677" y="419" width="1" height="3"/><rect x="677" y="425" width="1" height="3"/><rect x="677" y="431" width="1" height="3"/><rect x="677" y="437" width="1" height="3"/><rect x="677" y="443" width="1" height="3"/><rect x="677" y="449" width="1" height="3"/><rect x="677" y="455" width="1" height="3"/><rect x="677" y="461" width="1" height="3"/>
<rect x="721" y="6" width="1" height="2"/><rect x="721" y="11" width="1" height="3"/><rect x="721" y="17" width="1" height="3"/><rect x="721" y="23" width="1" height="3"/><rect x="721" y="29" width="1" height="3"/><rect x="721" y="35" width="1" height="3"/><rect x="721" y="41" width="1" height="3"/><rect x="721" y="47" width="1" height="3"/><rect x="721" y="53" width="1" height="3"/><rect x="721" y="59" width="1" height="3"/><rect x="721" y="65" width="1" height="3"/><rect x="721" y="71" width="1" height="3"/><rect x="721" y="77" width="1" height="3"/><rect x="721" y="83" width="1" height="3"/><rect x="721" y="89" width="1" height="3"/><rect x="721" y="95" width="1" height="3"/><rect x="721" y="101" width="1" height="3"/><rect x="721" y="107" width="1" height="3"/><rect x="721" y="113" width="1" height="3"/><rect x="721" y="119" width="1" height="3"/><rect x="721" y="125" width="1" height="3"/><rect x="721" y="131" width="1" height="3"/><rect x="721" y="137" width="1" height="3"/><rect x="721" y="143" width="1" height="3"/><rect x="721" y="149" width="1" height="3"/><rect x="721" y="155" width="1" height="3"/><rect x="721" y="161" width="1" height="3"/><rect x="721" y="167" width="1" height="3"/><rect x="721" y="173" width="1" height="3"/><rect x="721" y="179" width="1" height="3"/><rect x="721" y="185" width="1" height="3"/><rect x="721" y="191" width="1" height="3"/><rect x="721" y="197" width="1" height="3"/><rect x="721" y="203" width="1" height="3"/><rect x="721" y="209" width="1" height="3"/><rect x="721" y="215" width="1" height="3"/><rect x="721" y="221" width="1" height="3"/><rect x="721" y="227" width="1" height="3"/><rect x="721" y="233" width="1" height="3"/><rect x="721" y="239" width="1" height="3"/><rect x="721" y="245" width="1" height="3"/><rect x="721" y="251" width="1" height="3"/><rect x="721" y="257" width="1" height="3"/><rect x="721" y="263" width="1" height="3"/><rect x="721" y="269" width="1" height="3"/><rect x="721" y="275" width="1" height="3"/><rect x="721" y="281" width="1" height="3"/><rect x="721" y="287" width="1" height="3"/><rect x="721" y="293" width="1" height="3"/><rect x="721" y="299" width="1" height="3"/><rect x="721" y="305" width="1" height="3"/><rect x="721" y="311" width="1" height="3"/><rect x="721" y="317" width="1" height="3"/><rect x="721" y="323" width="1" height="3"/><rect x="721" y="329" width="1" height="3"/><rect x="721" y="335" width="1" height="3"/><rect x="721" y="341" width="1" height="3"/><rect x="721" y="347" width="1" height="3"/><rect x="721" y="353" width="1" height="3"/><rect x="721" y="359" width="1" height="3"/><rect x="721" y="365" width="1" height="3"/><rect x="721" y="371" width="1" height="3"/><rect x="721" y="377" width="1" height="3"/><rect x="721" y="383" width="1" height="3"/><rect x="721" y="389" width="1" height="3"/><rect x="721" y="395" width="1" height="3"/><rect x="721" y="401" width="1" height="3"/><rect x="721" y="407" width="1" height="3"/><rect x="721" y="413" width="1" height="3"/><rect x="721" y="419" width="1" height="3"/><rect x="721" y="425" width="1" height="3"/><rect x="721" y="431" width="1" height="3"/><rect x="721" y="437" width="1" height="3"/><rect x="721" y="443" width="1" height="3"/><rect x="721" y="449" width="1" height="3"/><rect x="721" y="455" width="1" height="3"/><rect x="721" y="461" width="1" height="3"/>
<rect x="763" y="6" width="1" height="2"/><rect x="763" y="11" width="1" height="3"/><rect x="763" y="17" width="1" height="3"/><rect x="763" y="23" width="1" height="3"/><rect x="763" y="29" width="1" height="3"/><rect x="763" y="35" width="1" height="3"/><rect x="763" y="41" width="1" height="3"/><rect x="763" y="47" width="1" height="3"/><rect x="763" y="53" width="1" height="3"/><rect x="763" y="59" width="1" height="3"/><rect x="763" y="65" width="1" height="3"/><rect x="763" y="71" width="1" height="3"/><rect x="763" y="77" width="1" height="3"/><rect x="763" y="83" width="1" height="3"/><rect x="763" y="89" width="1" height="3"/><rect x="763" y="95" width="1" height="3"/><rect x="763" y="101" width="1" height="3"/><rect x="763" y="107" width="1" height="3"/><rect x="763" y="113" width="1" height="3"/><rect x="763" y="119" width="1" height="3"/><rect x="763" y="125" width="1" height="3"/><rect x="763" y="131" width="1" height="3"/><rect x="763" y="137" width="1" height="3"/><rect x="763" y="143" width="1" height="3"/><rect x="763" y="149" width="1" height="3"/><rect x="763" y="155" width="1" height="3"/><rect x="763" y="161" width="1" height="3"/><rect x="763" y="167" width="1" height="3"/><rect x="763" y="173" width="1" height="3"/><rect x="763" y="179" width="1" height="3"/><rect x="763" y="185" width="1" height="3"/><rect x="763" y="191" width="1" height="3"/><rect x="763" y="197" width="1" height="3"/><rect x="763" y="203" width="1" height="3"/><rect x="763" y="209" width="1" height="3"/><rect x="763" y="215" width="1" height="3"/><rect x="763" y="221" width="1" height="3"/><rect x="763" y="227" width="1" height="3"/><rect x="763" y="233" width="1" height="3"/><rect x="763" y="239" width="1" height="3"/><rect x="763" y="245" width="1" height="3"/><rect x="763" y="251" width="1" height="3"/><rect x="763" y="257" width="1" height="3"/><rect x="763" y="263" width="1" height="3"/><rect x="763" y="269" width="1" height="3"/><rect x="763" y="275" width="1" height="3"/><rect x="763" y="281" width="1" height="3"/><rect x="763" y="287" width="1" height="3"/><rect x="763" y="293" width="1" height="3"/><rect x="763" y="299" width="1" height="3"/><rect x="763" y="305" width="1" height="3"/><rect x="763" y="311" width="1" height="3"/><rect x="763" y="317" width="1" height="3"/><rect x="763" y="323" width="1" height="3"/><rect x="763" y="329" width="1" height="3"/><rect x="763" y="335" width="1" height="3"/><rect x="763" y="341" width="1" height="3"/><rect x="763" y="347" width="1" height="3"/><rect x="763" y="353" width="1" height="3"/><rect x="763" y="359" width="1" height="3"/><rect x="763" y="365" width="1" height="3"/><rect x="763" y="371" width="1" height="3"/><rect x="763" y="377" width="1" height="3"/><rect x="763" y="383" width="1" height="3"/><rect x="763" y="389" width="1" height="3"/><rect x="763" y="395" width="1" height="3"/><rect x="763" y="401" width="1" height="3"/><rect x="763" y="407" width="1" height="3"/><rect x="763" y="413" width="1" height="3"/><rect x="763" y="419" width="1" height="3"/><rect x="763" y="425" width="1" height="3"/><rect x="763" y="431" width="1" height="3"/><rect x="763" y="437" width="1" height="3"/><rect x="763" y="443" width="1" height="3"/><rect x="763" y="449" width="1" height="3"/><rect x="763" y="455" width="1" height="3"/><rect x="763" y="461" width="1" height="3"/>
<rect x="825" y="6" width="1" height="2"/><rect x="825" y="11" width="1" height="3"/><rect x="825" y="17" width="1" height="3"/><rect x="825" y="23" width="1" height="3"/><rect x="825" y="29" width="1" height="3"/><rect x="825" y="35" width="1" height="3"/><rect x="825" y="41" width="1" height="3"/><rect x="825" y="47" width="1" height="3"/><rect x="825" y="53" width="1" height="3"/><rect x="825" y="59" width="1" height="3"/><rect x="825" y="65" width="1" height="3"/><rect x="825" y="71" width="1" height="3"/><rect x="825" y="77" width="1" height="3"/><rect x="825" y="83" width="1" height="3"/><rect x="825" y="89" width="1" height="3"/><rect x="825" y="95" width="1" height="3"/><rect x="825" y="101" width="1" height="3"/><rect x="825" y="107" width="1" height="3"/><rect x="825" y="113" width="1" height="3"/><rect x="825" y="119" width="1" height="3"/><rect x="825" y="125" width="1" height="3"/><rect x="825" y="131" width="1" height="3"/><rect x="825" y="137" width="1" height="3"/><rect x="825" y="143" width="1" height="3"/><rect x="825" y="149" width="1" height="3"/><rect x="825" y="155" width="1" height="3"/><rect x="825" y="161" width="1" height="3"/><rect x="825" y="167" width="1" height="3"/><rect x="825" y="173" width="1" height="3"/><rect x="825" y="179" width="1" height="3"/><rect x="825" y="185" width="1" height="3"/><rect x="825" y="191" width="1" height="3"/><rect x="825" y="197" width="1" height="3"/><rect x="825" y="203" width="1" height="3"/><rect x="825" y="209" width="1" height="3"/><rect x="825" y="215" width="1" height="3"/><rect x="825" y="221" width="1" height="3"/><rect x="825" y="227" width="1" height="3"/><rect x="825" y="233" width="1" height="3"/><rect x="825" y="239" width="1" height="3"/><rect x="825" y="245" width="1" height="3"/><rect x="825" y="251" width="1" height="3"/><rect x="825" y="257" width="1" height="3"/><rect x="825" y="263" width="1" height="3"/><rect x="825" y="269" width="1" height="3"/><rect x="825" y="275" width="1" height="3"/><rect x="825" y="281" width="1" height="3"/><rect x="825" y="287" width="1" height="3"/><rect x="825" y="293" width="1" height="3"/><rect x="825" y="299" width="1" height="3"/><rect x="825" y="305" width="1" height="3"/><rect x="825" y="311" width="1" height="3"/><rect x="825" y="317" width="1" height="3"/><rect x="825" y="323" width="1" height="3"/><rect x="825" y="329" width="1" height="3"/><rect x="825" y="335" width="1" height="3"/><rect x="825" y="341" width="1" height="3"/><rect x="825" y="347" width="1" height="3"/><rect x="825" y="353" width="1" height="3"/><rect x="825" y="359" width="1" height="3"/><rect x="825" y="365" width="1" height="3"/><rect x="825" y="371" width="1" height="3"/><rect x="825" y="377" width="1" height="3"/><rect x="825" y="383" width="1" height="3"/><rect x="825" y="389" width="1" height="3"/><rect x="825" y="395" width="1" height="3"/><rect x="825" y="401" width="1" height="3"/><rect x="825" y="407" width="1" height="3"/><rect x="825" y="413" width="1" height="3"/><rect x="825" y="419" width="1" height="3"/><rect x="825" y="425" width="1" height="3"/><rect x="825" y="431" width="1" height="3"/><rect x="825" y="437" width="1" height="3"/><rect x="825" y="443" width="1" height="3"/><rect x="825" y="449" width="1" height="3"/><rect x="825" y="455" width="1" height="3"/><rect x="825" y="461" width="1" height="3"/>
</g>
<rect x="5" y="210" width="950" height="1" fill="#808a8a" shape-rendering="crispEdges"/>
<g shape-rendering="crispEdges" fill="#000">
<rect x="5" y="93" width="1" height="15"/><rect x="7" y="95" width="1" height="20"/><rect x="9" y="98" width="1" height="20"/><rect x="11" y="99" width="1" height="10"/><rect x="13" y="81" width="1" height="21"/><rect x="15" y="74" width="1" height="14"/><rect x="17" y="74" width="1" height="14"/><rect x="19" y="73" width="1" height="14"/><rect x="21" y="66" width="1" height="10"/><rect x="23" y="66" width="1" height="10"/><rect x="25" y="67" width="1" height="16"/><rect x="27" y="59" width="1" height="22"/><rect x="29" y="70" width="1" height="27"/><rect x="31" y="82" width="1" height="15"/><rect x="33" y="82" width="1" height="9"/><rect x="35" y="78" width="1" height="13"/><rect x="37" y="73" width="1" height="10"/><rect x="39" y="76" width="1" height="8"/><rect x="41" y="57" width="1" height="21"/><rect x="43" y="53" width="1" height="9"/><rect x="45" y="56" width="1" height="7"/><rect x="47" y="54" width="1" height="12"/><rect x="49" y="57" width="1" height="26"/><rect x="51" y="72" width="1" height="16"/><rect x="53" y="78" width="1" height="26"/><rect x="55" y="87" width="1" height="13"/><rect x="57" y="83" width="1" height="11"/><rect x="59" y="80" width="1" height="14"/><rect x="61" y="77" width="1" height="17"/><rect x="63" y="82" width="1" height="9"/><rect x="65" y="83" width="1" height="8"/><rect x="67" y="83" width="1" height="9"/><rect x="69" y="73" width="1" height="12"/><rect x="71" y="70" width="1" height="10"/><rect x="73" y="77" width="1" height="39"/><rect x="75" y="90" width="1" height="17"/><rect x="77" y="101" width="1" height="14"/><rect x="79" y="109" width="1" height="15"/><rect x="81" y="120" width="1" height="26"/><rect x="83" y="129" width="1" height="11"/><rect x="85" y="120" width="1" height="17"/><rect x="87" y="122" width="1" height="9"/><rect x="89" y="101" width="1" height="28"/><rect x="91" y="105" width="1" height="23"/><rect x="93" y="118" width="1" height="12"/><rect x="95" y="117" width="1" height="10"/><rect x="97" y="118" width="1" height="10"/><rect x="99" y="114" width="1" height="12"/><rect x="101" y="106" width="1" height="11"/><rect x="103" y="110" width="1" height="12"/><rect x="105" y="114" width="1" height="15"/><rect x="107" y="116" width="1" height="16"/><rect x="109" y="116" width="1" height="13"/><rect x="111" y="110" width="1" height="9"/><rect x="113" y="109" width="1" height="9"/><rect x="115" y="108" width="1" height="18"/><rect x="117" y="107" width="1" height="22"/><rect x="119" y="121" width="1" height="15"/><rect x="121" y="106" width="1" height="24"/><rect x="123" y="94" width="1" height="18"/><rect x="125" y="98" width="1" height="20"/><rect x="127" y="90" width="1" height="11"/><rect x="129" y="84" width="1" height="12"/><rect x="131" y="88" width="1" height="21"/><rect x="133" y="102" width="1" height="21"/><rect x="135" y="107" width="1" height="9"/><rect x="137" y="38" width="1" height="74"/><rect x="139" y="41" width="1" height="45"/><rect x="141" y="74" width="1" height="15"/><rect x="143" y="69" width="1" height="18"/><rect x="145" y="71" width="1" height="11"/><rect x="147" y="72" width="1" height="21"/><rect x="149" y="85" width="1" height="17"/><rect x="151" y="99" width="1" height="12"/><rect x="153" y="98" width="1" height="10"/><rect x="155" y="100" width="1" height="14"/><rect x="157" y="103" width="1" height="16"/><rect x="159" y="112" width="1" height="16"/><rect x="161" y="117" width="1" height="19"/><rect x="163" y="129" width="1" height="15"/><rect x="165" y="121" width="1" height="12"/><rect x="167" y="116" width="1" height="13"/><rect x="169" y="120" width="1" height="15"/><rect x="171" y="118" width="1" height="13"/><rect x="173" y="117" width="1" height="14"/><rect x="175" y="108" width="1" height="12"/><rect x="177" y="108" width="1" height="17"/><rect x="179" y="116" width="1" height="14"/><rect x="181" y="115" width="1" height="12"/><rect x="183" y="113" width="1" height="11"/><rect x="185" y="111" width="1" height="12"/><rect x="187" y="118" width="1" height="12"/><rect x="189" y="114" width="1" height="12"/><rect x="191" y="105" width="1" height="19"/><rect x="193" y="101" width="1" height="10"/><rect x="195" y="99" width="1" height="9"/><rect x="197" y="97" width="1" height="10"/><rect x="199" y="100" width="1" height="11"/><rect x="201" y="101" width="1" height="13"/><rect x="203" y="107" width="1" height="14"/><rect x="205" y="99" width="1" height="23"/><rect x="207" y="91" width="1" height="12"/><rect x="209" y="88" width="1" height="13"/><rect x="211" y="87" width="1" height="15"/><rect x="213" y="90" width="1" height="11"/><rect x="215" y="91" width="1" height="18"/><rect x="217" y="91" width="1" height="11"/><rect x="219" y="91" width="1" height="9"/><rect x="221" y="92" width="1" height="12"/><rect x="223" y="88" width="1" height="9"/><rect x="225" y="84" width="1" height="16"/><rect x="227" y="85" width="1" height="12"/><rect x="229" y="93" width="1" height="16"/><rect x="231" y="91" width="1" height="21"/><rect x="233" y="81" width="1" height="17"/><rect x="235" y="79" width="1" height="11"/><rect x="237" y="85" width="1" height="14"/><rect x="239" y="87" width="1" height="8"/><rect x="241" y="85" width="1" height="9"/><rect x="243" y="87" width="1" height="8"/><rect x="245" y="88" width="1" height="22"/><rect x="247" y="94" width="1" height="16"/><rect x="249" y="100" width="1" height="12"/><rect x="251" y="85" width="1" height="21"/><rect x="253" y="82" width="1" height="10"/><rect x="255" y="75" width="1" height="16"/><rect x="257" y="77" width="1" height="8"/><rect x="259" y="76" width="1" height="7"/><rect x="261" y="80" width="1" height="10"/><rect x="263" y="75" width="1" height="9"/><rect x="265" y="67" width="1" height="13"/><rect x="267" y="68" width="1" height="8"/><rect x="269" y="64" width="1" height="10"/><rect x="271" y="62" width="1" height="7"/><rect x="273" y="60" width="1" height="7"/><rect x="275" y="60" width="1" height="8"/><rect x="277" y="64" width="1" height="12"/><rect x="279" y="64" width="1" height="8"/><rect x="281" y="59" width="1" height="7"/><rect x="283" y="57" width="1" height="7"/><rect x="285" y="53" width="1" height="11"/><rect x="287" y="58" width="1" height="12"/><rect x="289" y="58" width="1" height="10"/><rect x="291" y="38" width="1" height="26"/><rect x="293" y="28" width="1" height="21"/><rect x="295" y="44" width="1" height="9"/><rect x="297" y="27" width="1" height="48"/><rect x="299" y="65" width="1" height="13"/><rect x="301" y="68" width="1" height="8"/><rect x="303" y="72" width="1" height="11"/><rect x="305" y="73" width="1" height="10"/><rect x="307" y="76" width="1" height="10"/><rect x="309" y="74" width="1" height="9"/><rect x="311" y="73" width="1" height="6"/><rect x="313" y="68" width="1" height="8"/><rect x="315" y="71" width="1" height="11"/><rect x="317" y="77" width="1" height="16"/><rect x="319" y="92" width="1" height="12"/><rect x="321" y="94" width="1" height="18"/><rect x="323" y="116" width="1" height="16"/><rect x="325" y="117" width="1" height="13"/><rect x="327" y="114" width="1" height="10"/><rect x="329" y="123" width="1" height="17"/><rect x="331" y="125" width="1" height="21"/><rect x="333" y="137" width="1" height="27"/><rect x="335" y="147" width="1" height="16"/><rect x="337" y="142" width="1" height="21"/><rect x="339" y="140" width="1" height="19"/><rect x="341" y="149" width="1" height="11"/><rect x="343" y="155" width="1" height="13"/><rect x="345" y="155" width="1" height="12"/><rect x="347" y="142" width="1" height="18"/><rect x="349" y="138" width="1" height="16"/><rect x="351" y="133" width="1" height="11"/><rect x="353" y="131" width="1" height="8"/><rect x="355" y="130" width="1" height="12"/><rect x="357" y="118" width="1" height="16"/><rect x="359" y="113" width="1" height="10"/><rect x="361" y="119" width="1" height="13"/><rect x="363" y="138" width="1" height="19"/><rect x="365" y="142" width="1" height="20"/><rect x="367" y="155" width="1" height="19"/><rect x="369" y="169" width="1" height="21"/><rect x="371" y="183" width="1" height="18"/><rect x="373" y="167" width="1" height="26"/><rect x="375" y="162" width="1" height="21"/><rect x="377" y="168" width="1" height="16"/><rect x="379" y="176" width="1" height="19"/><rect x="381" y="189" width="1" height="42"/><rect x="383" y="291" width="1" height="50"/><rect x="385" y="285" width="1" height="41"/><rect x="387" y="274" width="1" height="34"/><rect x="389" y="299" width="1" height="32"/><rect x="391" y="301" width="1" height="30"/><rect x="393" y="324" width="1" height="31"/><rect x="395" y="340" width="1" height="22"/><rect x="397" y="356" width="1" height="38"/><rect x="399" y="355" width="1" height="35"/><rect x="401" y="342" width="1" height="34"/><rect x="403" y="369" width="1" height="20"/><rect x="405" y="342" width="1" height="30"/><rect x="407" y="343" width="1" height="21"/><rect x="409" y="348" width="1" height="16"/><rect x="411" y="355" width="1" height="17"/><rect x="413" y="372" width="1" height="16"/><rect x="415" y="366" width="1" height="18"/><rect x="417" y="377" width="1" height="15"/><rect x="419" y="301" width="1" height="86"/><rect x="421" y="310" width="1" height="55"/><rect x="423" y="316" width="1" height="21"/><rect x="425" y="317" width="1" height="21"/><rect x="427" y="320" width="1" height="20"/><rect x="429" y="299" width="1" height="42"/><rect x="431" y="324" width="1" height="22"/><rect x="433" y="331" width="1" height="24"/><rect x="435" y="348" width="1" height="24"/><rect x="437" y="358" width="1" height="14"/><rect x="439" y="359" width="1" height="11"/><rect x="441" y="364" width="1" height="23"/><rect x="443" y="353" width="1" height="60"/><rect x="445" y="381" width="1" height="49"/><rect x="447" y="374" width="1" height="25"/><rect x="449" y="380" width="1" height="19"/><rect x="451" y="389" width="1" height="21"/><rect x="453" y="399" width="1" height="15"/><rect x="455" y="388" width="1" height="20"/><rect x="457" y="374" width="1" height="23"/><rect x="459" y="365" width="1" height="22"/><rect x="461" y="365" width="1" height="21"/><rect x="463" y="337" width="1" height="31"/><rect x="465" y="334" width="1" height="25"/><rect x="467" y="335" width="1" height="22"/><rect x="469" y="341" width="1" height="15"/><rect x="471" y="338" width="1" height="17"/><rect x="473" y="344" width="1" height="12"/><rect x="475" y="345" width="1" height="14"/><rect x="477" y="338" width="1" height="21"/><rect x="479" y="327" width="1" height="16"/><rect x="481" y="305" width="1" height="20"/><rect x="483" y="304" width="1" height="14"/><rect x="485" y="299" width="1" height="17"/><rect x="487" y="295" width="1" height="11"/><rect x="489" y="301" width="1" height="22"/><rect x="491" y="299" width="1" height="16"/><rect x="493" y="293" width="1" height="12"/><rect x="495" y="297" width="1" height="17"/><rect x="497" y="297" width="1" height="19"/><rect x="499" y="285" width="1" height="28"/><rect x="501" y="281" width="1" height="15"/><rect x="503" y="273" width="1" height="12"/><rect x="505" y="267" width="1" height="15"/><rect x="507" y="270" width="1" height="9"/><rect x="509" y="251" width="1" height="23"/><rect x="511" y="245" width="1" height="21"/><rect x="513" y="260" width="1" height="12"/><rect x="515" y="255" width="1" height="16"/><rect x="517" y="260" width="1" height="28"/><rect x="519" y="275" width="1" height="20"/><rect x="521" y="272" width="1" height="22"/><rect x="523" y="258" width="1" height="22"/><rect x="525" y="258" width="1" height="14"/><rect x="527" y="258" width="1" height="13"/><rect x="529" y="248" width="1" height="15"/><rect x="531" y="246" width="1" height="10"/><rect x="533" y="240" width="1" height="14"/><rect x="535" y="248" width="1" height="25"/><rect x="537" y="258" width="1" height="16"/><rect x="539" y="257" width="1" height="13"/><rect x="541" y="255" width="1" height="16"/><rect x="543" y="255" width="1" height="9"/><rect x="545" y="250" width="1" height="16"/><rect x="547" y="245" width="1" height="13"/><rect x="549" y="247" width="1" height="6"/><rect x="551" y="242" width="1" height="8"/><rect x="553" y="244" width="1" height="6"/><rect x="555" y="244" width="1" height="7"/><rect x="557" y="243" width="1" height="13"/><rect x="559" y="244" width="1" height="17"/><rect x="561" y="245" width="1" height="10"/><rect x="563" y="247" width="1" height="11"/><rect x="565" y="241" width="1" height="10"/><rect x="567" y="241" width="1" height="7"/><rect x="569" y="244" width="1" height="6"/><rect x="571" y="243" width="1" height="9"/><rect x="573" y="231" width="1" height="14"/><rect x="575" y="234" width="1" height="7"/><rect x="577" y="231" width="1" height="13"/><rect x="579" y="238" width="1" height="7"/><rect x="581" y="239" width="1" height="10"/><rect x="583" y="237" width="1" height="7"/><rect x="585" y="237" width="1" height="7"/><rect x="587" y="238" width="1" height="20"/><rect x="589" y="241" width="1" height="7"/><rect x="591" y="233" width="1" height="16"/><rect x="593" y="233" width="1" height="12"/><rect x="595" y="222" width="1" height="16"/><rect x="597" y="226" width="1" height="7"/><rect x="599" y="229" width="1" height="9"/><rect x="601" y="229" width="1" height="6"/><rect x="603" y="225" width="1" height="12"/><rect x="605" y="227" width="1" height="10"/><rect x="607" y="227" width="1" height="7"/><rect x="609" y="230" width="1" height="6"/><rect x="611" y="228" width="1" height="7"/><rect x="613" y="227" width="1" height="7"/><rect x="615" y="228" width="1" height="6"/><rect x="617" y="230" width="1" height="10"/><rect x="619" y="231" width="1" height="13"/><rect x="621" y="226" width="1" height="12"/><rect x="623" y="219" width="1" height="10"/><rect x="625" y="219" width="1" height="6"/><rect x="627" y="221" width="1" height="11"/><rect x="629" y="224" width="1" height="6"/><rect x="631" y="219" width="1" height="12"/><rect x="633" y="221" width="1" height="9"/><rect x="635" y="223" width="1" height="15"/><rect x="637" y="235" width="1" height="11"/><rect x="639" y="235" width="1" height="19"/><rect x="641" y="252" width="1" height="6"/><rect x="643" y="253" width="1" height="24"/><rect x="645" y="261" width="1" height="16"/><rect x="647" y="263" width="1" height="11"/><rect x="649" y="268" width="1" height="9"/><rect x="651" y="270" width="1" height="7"/><rect x="653" y="264" width="1" height="13"/><rect x="655" y="252" width="1" height="14"/><rect x="657" y="243" width="1" height="17"/><rect x="659" y="241" width="1" height="11"/><rect x="661" y="241" width="1" height="18"/><rect x="663" y="250" width="1" height="9"/><rect x="665" y="247" width="1" height="11"/><rect x="667" y="250" width="1" height="7"/><rect x="669" y="249" width="1" height="7"/><rect x="671" y="247" width="1" height="8"/><rect x="673" y="247" width="1" height="18"/><rect x="675" y="251" width="1" height="14"/><rect x="677" y="251" width="1" height="21"/><rect x="679" y="265" width="1" height="16"/><rect x="681" y="258" width="1" height="17"/><rect x="683" y="249" width="1" height="13"/><rect x="685" y="252" width="1" height="9"/><rect x="687" y="245" width="1" height="12"/><rect x="689" y="243" width="1" height="7"/><rect x="691" y="250" width="1" height="11"/><rect x="693" y="250" width="1" height="8"/><rect x="695" y="245" width="1" height="10"/><rect x="697" y="244" width="1" height="16"/><rect x="699" y="245" width="1" height="9"/><rect x="701" y="243" width="1" height="6"/><rect x="703" y="242" width="1" height="9"/><rect x="705" y="245" width="1" height="11"/><rect x="707" y="246" width="1" height="12"/><rect x="709" y="246" width="1" height="12"/><rect x="711" y="258" width="1" height="8"/><rect x="713" y="256" width="1" height="9"/><rect x="715" y="262" width="1" height="16"/><rect x="717" y="271" width="1" height="22"/><rect x="719" y="281" width="1" height="12"/><rect x="721" y="275" width="1" height="27"/><rect x="723" y="267" width="1" height="15"/><rect x="725" y="260" width="1" height="15"/><rect x="727" y="259" width="1" height="10"/><rect x="729" y="263" width="1" height="14"/><rect x="731" y="243" width="1" height="28"/><rect x="733" y="239" width="1" height="19"/><rect x="735" y="229" width="1" height="14"/><rect x="737" y="236" width="1" height="10"/><rect x="739" y="241" width="1" height="10"/><rect x="741" y="234" width="1" height="14"/><rect x="743" y="236" width="1" height="11"/><rect x="745" y="232" width="1" height="11"/><rect x="747" y="234" width="1" height="8"/><rect x="749" y="230" width="1" height="9"/><rect x="751" y="222" width="1" height="10"/><rect x="753" y="208" width="1" height="19"/><rect x="755" y="200" width="1" height="12"/><rect x="757" y="200" width="1" height="13"/><rect x="759" y="204" width="1" height="10"/><rect x="761" y="205" width="1" height="11"/>
</g>
<g shape-rendering="crispEdges">
<rect x="5" y="458" width="3" height="6" fill="#e81010"/><rect x="8" y="457" width="7" height="7" fill="#168016"/><rect x="15" y="459" width="3" height="5" fill="#e81010"/><rect x="18" y="457" width="2" height="7" fill="#168016"/><rect x="20" y="459" width="6" height="5" fill="#e81010"/><rect x="26" y="456" width="4" height="8" fill="#168016"/><rect x="30" y="458" width="2" height="6" fill="#e81010"/><rect x="32" y="463" width="3" height="1" fill="#e81010"/><rect x="35" y="459" width="10" height="5" fill="#e81010"/><rect x="45" y="461" width="1" height="3" fill="#e81010"/><rect x="46" y="459" width="6" height="5" fill="#168016"/><rect x="52" y="458" width="4" height="6" fill="#e81010"/><rect x="56" y="459" width="4" height="5" fill="#e81010"/><rect x="60" y="459" width="2" height="5" fill="#168016"/><rect x="62" y="460" width="6" height="4" fill="#e81010"/><rect x="68" y="459" width="4" height="5" fill="#168016"/><rect x="72" y="456" width="2" height="8" fill="#168016"/><rect x="74" y="457" width="6" height="7" fill="#e81010"/><rect x="80" y="455" width="2" height="9" fill="#168016"/><rect x="82" y="459" width="5" height="5" fill="#e81010"/><rect x="87" y="460" width="1" height="4" fill="#e81010"/><rect x="88" y="455" width="6" height="9" fill="#168016"/><rect x="94" y="458" width="4" height="6" fill="#e81010"/><rect x="98" y="459" width="2" height="5" fill="#168016"/><rect x="100" y="459" width="4" height="5" fill="#e81010"/><rect x="104" y="455" width="2" height="9" fill="#168016"/><rect x="106" y="459" width="4" height="5" fill="#e81010"/><rect x="110" y="459" width="6" height="5" fill="#168016"/><rect x="116" y="460" width="3" height="4" fill="#e81010"/><rect x="119" y="459" width="3" height="5" fill="#e81010"/><rect x="122" y="458" width="4" height="6" fill="#168016"/><rect x="126" y="459" width="5" height="5" fill="#e81010"/><rect x="131" y="458" width="3" height="6" fill="#168016"/><rect x="134" y="458" width="2" height="6" fill="#e81010"/><rect x="136" y="449" width="2" height="15" fill="#168016"/><rect x="138" y="451" width="2" height="13" fill="#e81010"/><rect x="140" y="455" width="2" height="9" fill="#e81010"/><rect x="142" y="457" width="2" height="7" fill="#e81010"/><rect x="144" y="458" width="2" height="6" fill="#e81010"/><rect x="146" y="460" width="4" height="4" fill="#e81010"/><rect x="150" y="460" width="2" height="4" fill="#168016"/><rect x="152" y="460" width="2" height="4" fill="#e81010"/><rect x="154" y="458" width="2" height="6" fill="#168016"/><rect x="156" y="460" width="3" height="4" fill="#e81010"/><rect x="159" y="460" width="8" height="4" fill="#168016"/><rect x="167" y="460" width="2" height="4" fill="#e81010"/><rect x="169" y="458" width="3" height="6" fill="#e81010"/><rect x="172" y="458" width="4" height="6" fill="#168016"/><rect x="176" y="460" width="8" height="4" fill="#e81010"/><rect x="184" y="461" width="4" height="3" fill="#e81010"/><rect x="188" y="461" width="2" height="3" fill="#168016"/><rect x="190" y="461" width="3" height="3" fill="#e81010"/><rect x="193" y="461" width="7" height="3" fill="#e81010"/><rect x="200" y="461" width="5" height="3" fill="#168016"/><rect x="205" y="461" width="4" height="3" fill="#168016"/><rect x="209" y="461" width="9" height="3" fill="#e81010"/><rect x="218" y="461" width="6" height="3" fill="#e81010"/><rect x="224" y="462" width="8" height="2" fill="#168016"/><rect x="232" y="461" width="4" height="3" fill="#e81010"/><rect x="236" y="462" width="8" height="2" fill="#e81010"/><rect x="244" y="463" width="3" height="1" fill="#e81010"/><rect x="247" y="461" width="9" height="3" fill="#168016"/><rect x="256" y="461" width="6" height="3" fill="#e81010"/><rect x="262" y="461" width="4" height="3" fill="#168016"/><rect x="266" y="462" width="12" height="2" fill="#e81010"/><rect x="278" y="463" width="4" height="1" fill="#e81010"/><rect x="282" y="462" width="7" height="2" fill="#168016"/><rect x="289" y="459" width="6" height="5" fill="#e81010"/><rect x="295" y="456" width="3" height="8" fill="#168016"/><rect x="298" y="460" width="12" height="4" fill="#e81010"/><rect x="310" y="462" width="5" height="2" fill="#e81010"/><rect x="315" y="461" width="3" height="3" fill="#168016"/><rect x="318" y="459" width="3" height="5" fill="#168016"/><rect x="321" y="460" width="7" height="4" fill="#e81010"/><rect x="328" y="458" width="3" height="6" fill="#168016"/><rect x="331" y="456" width="2" height="8" fill="#168016"/><rect x="333" y="458" width="3" height="6" fill="#e81010"/><rect x="336" y="457" width="2" height="7" fill="#168016"/><rect x="338" y="459" width="7" height="5" fill="#e81010"/><rect x="345" y="460" width="1" height="4" fill="#e81010"/><rect x="346" y="459" width="4" height="5" fill="#168016"/><rect x="350" y="461" width="3" height="3" fill="#e81010"/><rect x="353" y="462" width="1" height="2" fill="#e81010"/><rect x="354" y="460" width="4" height="4" fill="#168016"/><rect x="358" y="459" width="4" height="5" fill="#168016"/><rect x="362" y="457" width="4" height="7" fill="#168016"/><rect x="366" y="454" width="3" height="10" fill="#168016"/><rect x="369" y="451" width="3" height="13" fill="#168016"/><rect x="372" y="451" width="1" height="13" fill="#168016"/><rect x="373" y="453" width="3" height="11" fill="#e81010"/><rect x="376" y="456" width="4" height="8" fill="#e81010"/><rect x="380" y="453" width="2" height="11" fill="#168016"/><rect x="382" y="448" width="2" height="16" fill="#168016"/><rect x="384" y="453" width="8" height="11" fill="#e81010"/><rect x="392" y="455" width="6" height="9" fill="#168016"/><rect x="398" y="452" width="2" height="12" fill="#168016"/><rect x="400" y="453" width="3" height="11" fill="#e81010"/><rect x="403" y="455" width="2" height="9" fill="#e81010"/><rect x="405" y="456" width="3" height="8" fill="#168016"/><rect x="408" y="458" width="5" height="6" fill="#e81010"/><rect x="413" y="459" width="4" height="5" fill="#168016"/><rect x="417" y="459" width="1" height="5" fill="#e81010"/><rect x="418" y="452" width="2" height="12" fill="#168016"/><rect x="420" y="450" width="2" height="14" fill="#168016"/><rect x="422" y="457" width="4" height="7" fill="#e81010"/><rect x="426" y="458" width="2" height="6" fill="#168016"/><rect x="428" y="453" width="2" height="11" fill="#168016"/><rect x="430" y="459" width="8" height="5" fill="#e81010"/><rect x="438" y="457" width="4" height="7" fill="#168016"/><rect x="442" y="445" width="2" height="19" fill="#168016"/><rect x="444" y="452" width="2" height="12" fill="#e81010"/><rect x="446" y="455" width="3" height="9" fill="#e81010"/><rect x="449" y="458" width="3" height="6" fill="#e81010"/><rect x="452" y="456" width="4" height="8" fill="#168016"/><rect x="456" y="457" width="6" height="7" fill="#e81010"/><rect x="462" y="458" width="1" height="6" fill="#e81010"/><rect x="463" y="455" width="3" height="9" fill="#168016"/><rect x="466" y="457" width="4" height="7" fill="#e81010"/><rect x="470" y="459" width="4" height="5" fill="#e81010"/><rect x="474" y="458" width="6" height="6" fill="#168016"/><rect x="480" y="458" width="4" height="6" fill="#168016"/><rect x="484" y="459" width="4" height="5" fill="#e81010"/><rect x="488" y="455" width="2" height="9" fill="#168016"/><rect x="490" y="462" width="2" height="2" fill="#e81010"/><rect x="492" y="458" width="4" height="6" fill="#168016"/><rect x="496" y="455" width="2" height="9" fill="#168016"/><rect x="498" y="456" width="3" height="8" fill="#e81010"/><rect x="501" y="458" width="3" height="6" fill="#e81010"/><rect x="504" y="456" width="2" height="8" fill="#168016"/><rect x="506" y="459" width="3" height="5" fill="#e81010"/><rect x="509" y="457" width="3" height="7" fill="#168016"/><rect x="512" y="457" width="4" height="7" fill="#e81010"/><rect x="516" y="455" width="2" height="9" fill="#168016"/><rect x="518" y="452" width="3" height="12" fill="#168016"/><rect x="521" y="455" width="3" height="9" fill="#168016"/><rect x="524" y="456" width="3" height="8" fill="#e81010"/><rect x="527" y="458" width="3" height="6" fill="#e81010"/><rect x="530" y="458" width="3" height="6" fill="#e81010"/><rect x="533" y="456" width="3" height="8" fill="#168016"/><rect x="536" y="457" width="10" height="7" fill="#e81010"/><rect x="546" y="459" width="3" height="5" fill="#e81010"/><rect x="549" y="459" width="9" height="5" fill="#e81010"/><rect x="558" y="461" width="8" height="3" fill="#e81010"/><rect x="566" y="463" width="6" height="1" fill="#e81010"/><rect x="572" y="461" width="2" height="3" fill="#168016"/><rect x="574" y="463" width="2" height="1" fill="#e81010"/><rect x="576" y="461" width="4" height="3" fill="#168016"/><rect x="580" y="463" width="6" height="1" fill="#e81010"/><rect x="586" y="462" width="7" height="2" fill="#e81010"/><rect x="593" y="462" width="7" height="2" fill="#168016"/><rect x="600" y="463" width="2" height="1" fill="#e81010"/><rect x="602" y="462" width="2" height="2" fill="#168016"/><rect x="604" y="463" width="16" height="1" fill="#e81010"/><rect x="620" y="461" width="4" height="3" fill="#168016"/><rect x="624" y="463" width="13" height="1" fill="#e81010"/><rect x="637" y="461" width="3" height="3" fill="#168016"/><rect x="640" y="463" width="2" height="1" fill="#e81010"/><rect x="642" y="461" width="4" height="3" fill="#e81010"/><rect x="646" y="461" width="4" height="3" fill="#e81010"/><rect x="650" y="463" width="4" height="1" fill="#e81010"/><rect x="654" y="462" width="6" height="2" fill="#168016"/><rect x="660" y="461" width="2" height="3" fill="#168016"/><rect x="662" y="462" width="3" height="2" fill="#e81010"/><rect x="665" y="461" width="1" height="3" fill="#168016"/><rect x="666" y="461" width="4" height="3" fill="#e81010"/><rect x="670" y="463" width="2" height="1" fill="#e81010"/><rect x="672" y="461" width="5" height="3" fill="#168016"/><rect x="677" y="461" width="4" height="3" fill="#168016"/><rect x="681" y="461" width="7" height="3" fill="#e81010"/><rect x="688" y="463" width="2" height="1" fill="#e81010"/><rect x="690" y="462" width="4" height="2" fill="#168016"/><rect x="694" y="463" width="2" height="1" fill="#e81010"/><rect x="696" y="462" width="4" height="2" fill="#e81010"/><rect x="700" y="457" width="6" height="7" fill="#168016"/><rect x="706" y="459" width="2" height="5" fill="#e81010"/><rect x="708" y="461" width="4" height="3" fill="#e81010"/><rect x="712" y="463" width="2" height="1" fill="#e81010"/><rect x="714" y="461" width="2" height="3" fill="#168016"/><rect x="716" y="459" width="2" height="5" fill="#168016"/><rect x="718" y="457" width="2" height="7" fill="#168016"/><rect x="720" y="455" width="2" height="9" fill="#168016"/><rect x="722" y="456" width="2" height="8" fill="#e81010"/><rect x="724" y="454" width="2" height="10" fill="#168016"/><rect x="726" y="458" width="4" height="6" fill="#e81010"/><rect x="730" y="454" width="2" height="10" fill="#168016"/><rect x="732" y="455" width="2" height="9" fill="#e81010"/><rect x="734" y="455" width="2" height="9" fill="#168016"/><rect x="736" y="456" width="2" height="8" fill="#e81010"/><rect x="738" y="458" width="3" height="6" fill="#e81010"/><rect x="741" y="459" width="5" height="5" fill="#e81010"/><rect x="746" y="460" width="4" height="4" fill="#e81010"/><rect x="750" y="458" width="4" height="6" fill="#168016"/><rect x="754" y="457" width="2" height="7" fill="#168016"/><rect x="756" y="461" width="3" height="3" fill="#e81010"/><rect x="759" y="457" width="3" height="7" fill="#168016"/><rect x="762" y="462" width="1" height="2" fill="#e81010"/>
<polygon points="5,459 5,464 10,464" fill="#8c8c9c"/>
</g>
<g shape-rendering="crispEdges" fill="#000">
<rect x="4" y="5" width="952" height="1"/><rect x="4" y="5" width="1" height="436"/><rect x="955" y="5" width="1" height="436"/><rect x="4" y="440" width="952" height="1"/><rect x="4" y="442" width="952" height="1"/><rect x="4" y="442" width="1" height="23"/><rect x="955" y="442" width="1" height="23"/><rect x="4" y="464" width="952" height="1"/>
<rect x="956" y="8" width="2" height="1"/><rect x="956" y="41" width="2" height="1"/><rect x="956" y="74" width="2" height="1"/><rect x="956" y="107" width="2" height="1"/><rect x="956" y="140" width="2" height="1"/><rect x="956" y="173" width="2" height="1"/><rect x="956" y="239" width="2" height="1"/><rect x="956" y="272" width="2" height="1"/><rect x="956" y="305" width="2" height="1"/><rect x="956" y="338" width="2" height="1"/><rect x="956" y="371" width="2" height="1"/><rect x="956" y="404" width="2" height="1"/><rect x="956" y="437" width="2" height="1"/><rect x="956" y="443" width="2" height="1"/><rect x="956" y="463" width="2" height="1"/>
<rect x="5" y="465" width="1" height="3"/><rect x="69" y="465" width="1" height="3"/><rect x="133" y="465" width="1" height="3"/><rect x="197" y="465" width="1" height="3"/><rect x="261" y="465" width="1" height="3"/><rect x="325" y="465" width="1" height="3"/><rect x="389" y="465" width="1" height="3"/><rect x="453" y="465" width="1" height="3"/><rect x="517" y="465" width="1" height="3"/><rect x="581" y="465" width="1" height="3"/><rect x="645" y="465" width="1" height="3"/><rect x="709" y="465" width="1" height="3"/>
</g>
<polygon points="759,6 768,6 763.5,10.5" fill="#7f8890"/>
<polygon points="8.5,12.5 15,12.5 11.75,16.5" fill="#000"/>
<line x1="763.3" y1="214.8" x2="770.7" y2="193.3" stroke="#2ca050" stroke-width="3.1" shape-rendering="crispEdges"/>
<line x1="773.4" y1="197.3" x2="784.0" y2="242.4" stroke="#c4262e" stroke-width="3.1" shape-rendering="crispEdges"/>
<line x1="787.3" y1="243.3" x2="810.4" y2="179.6" stroke="#2ca050" stroke-width="3.1" shape-rendering="crispEdges"/>
<line x1="813.3" y1="184.2" x2="824.7" y2="221.8" stroke="#c4262e" stroke-width="3.1" shape-rendering="crispEdges"/>
<line x1="827.2" y1="219.5" x2="853.6" y2="165" stroke="#2ca050" stroke-width="3.1" shape-rendering="crispEdges"/>
<line x1="861.1" y1="170.3" x2="900" y2="287.3" stroke="#c4262e" stroke-width="3.1" shape-rendering="crispEdges"/>
<line x1="802.0" y1="248.2" x2="833.0" y2="357.8" stroke="#c4262e" stroke-width="3.1" shape-rendering="crispEdges"/>
</svg>
<div class="t" style="left:961.2px;top:3.3px;">73.30</div>
<div class="t" style="left:961.2px;top:36.3px;">69.10</div>
<div class="t" style="left:961.2px;top:69.3px;">64.90</div>
<div class="t" style="left:961.2px;top:102.3px;">60.70</div>
<div class="t" style="left:961.2px;top:135.3px;">56.60</div>
<div class="t" style="left:961.2px;top:168.3px;">52.40</div>
<div class="t" style="left:961.2px;top:201.3px;">48.20</div>
<div class="t" style="left:961.2px;top:234.3px;">44.00</div>
<div class="t" style="left:961.2px;top:267.3px;">39.80</div>
<div class="t" style="left:961.2px;top:300.3px;">35.60</div>
<div class="t" style="left:961.2px;top:333.3px;">31.50</div>
<div class="t" style="left:961.2px;top:366.3px;">27.30</div>
<div class="t" style="left:961.2px;top:399.3px;">23.10</div>
<div class="t" style="left:961.2px;top:432.3px;">18.90</div>
<div style="position:absolute;left:957px;top:205px;width:31px;height:11px;background:#000;"></div>
<div class="t" style="left:961.2px;top:205.3px;color:#fff;">47.65</div>
<div class="t" style="left:959.6px;top:444.7px;letter-spacing:-0.35px;">137157</div>
<div class="t" style="left:959.6px;top:453px;">0</div>
<div class="t" style="left:20.5px;top:8.7px;letter-spacing:-0.04px;">BRN,Daily</div>
<div class="t" style="left:69.5px;top:8.7px;word-spacing:1px;">47.62 47.69 47.57 47.65</div>
<div class="t" style="left:10px;top:447px;">Volumes 96</div>
<div class="t" style="left:4px;top:468.5px;letter-spacing:-0.1px;">14 Jun 2019</div>
<div class="t" style="left:68px;top:468.5px;letter-spacing:-0.1px;">30 Jul 2019</div>
<div class="t" style="left:132px;top:468.5px;letter-spacing:-0.1px;">12 Sep 2019</div>
<div class="t" style="left:196px;top:468.5px;letter-spacing:-0.1px;">28 Oct 2019</div>
<div class="t" style="left:260px;top:468.5px;letter-spacing:-0.1px;">11 Dec 2019</div>
<div class="t" style="left:324px;top:468.5px;letter-spacing:-0.1px;">28 Jan 2020</div>
<div class="t" style="left:388px;top:468.5px;letter-spacing:-0.1px;">12 Mar 2020</div>
<div class="t" style="left:452px;top:468.5px;letter-spacing:-0.1px;">28 Apr 2020</div>
<div class="t" style="left:516px;top:468.5px;letter-spacing:-0.1px;">11 Jun 2020</div>
<div class="t" style="left:580px;top:468.5px;letter-spacing:-0.1px;">27 Jul 2020</div>
<div class="t" style="left:644px;top:468.5px;letter-spacing:-0.1px;">9 Sep 2020</div>
<div class="t" style="left:708px;top:468.5px;letter-spacing:-0.1px;">23 Oct 2020</div>
<div class="s" style="left:624.2px;top:185px;color:#c8242c;font-size:20px;">a</div>
<div class="s" style="left:717.3px;top:311.2px;color:#c8242c;font-size:19px;">b</div>
<div class="s" style="left:851px;top:134px;color:#c8242c;font-size:20px;">c</div>
<div class="s" style="left:908px;top:284px;color:#111;font-size:20px;">?</div>
<div class="s" style="left:844px;top:350px;color:#111;font-size:20px;">?</div>
</body></html>
